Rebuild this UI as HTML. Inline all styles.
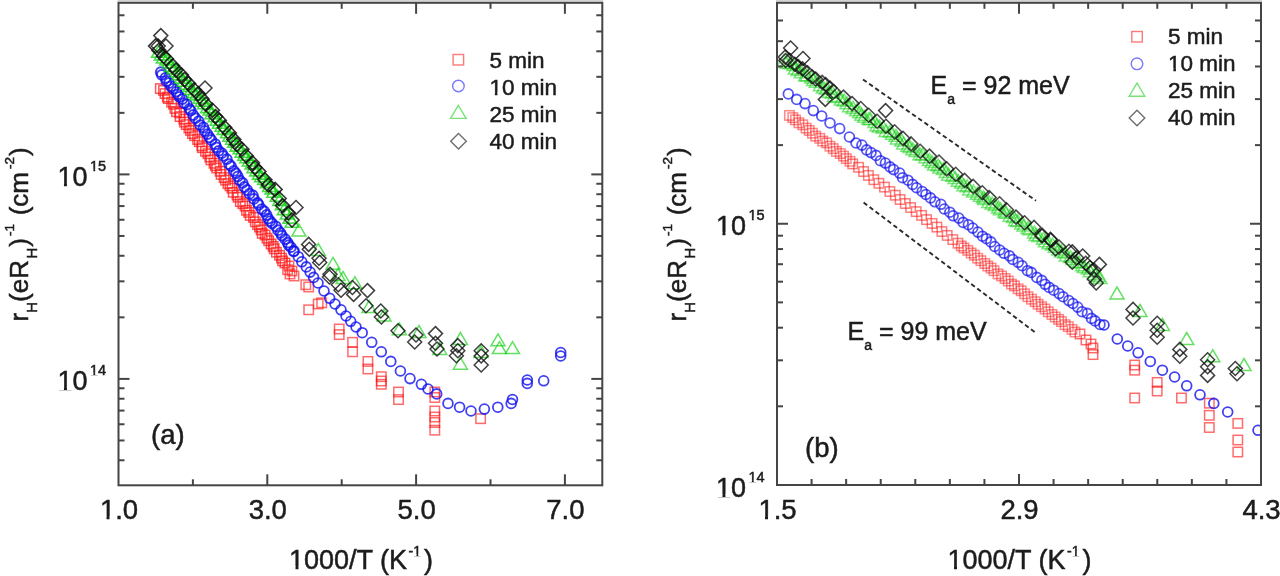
<!DOCTYPE html>
<html><head><meta charset="utf-8"><style>
html,body{margin:0;padding:0;background:#fff;width:1280px;height:576px;overflow:hidden}
svg{display:block;font-family:"Liberation Sans",sans-serif}
#w{width:1280px;height:576px;will-change:transform}
</style></head><body><div id="w">
<svg width="1280" height="576" viewBox="0 0 1280 576">
<defs>
<clipPath id="cl"><rect x="118.5" y="2.8" width="483.79999999999995" height="482.5"/></clipPath>
<clipPath id="cr"><rect x="777" y="2.8" width="484" height="482.2"/></clipPath>
</defs>
<rect width="1280" height="576" fill="#fff"/>
<g clip-path="url(#cl)">
<rect x="155.6" y="83.9" width="9.4" height="9.4" fill="none" stroke="#ff1010" stroke-width="1.5" stroke-opacity="0.7"/>
<rect x="158.8" y="85.7" width="9.4" height="9.4" fill="none" stroke="#ff1010" stroke-width="1.5" stroke-opacity="0.7"/>
<rect x="160.3" y="88.9" width="9.4" height="9.4" fill="none" stroke="#ff1010" stroke-width="1.5" stroke-opacity="0.7"/>
<rect x="162.6" y="92.4" width="9.4" height="9.4" fill="none" stroke="#ff1010" stroke-width="1.5" stroke-opacity="0.7"/>
<rect x="163.6" y="93.9" width="9.4" height="9.4" fill="none" stroke="#ff1010" stroke-width="1.5" stroke-opacity="0.7"/>
<rect x="166.9" y="97.5" width="9.4" height="9.4" fill="none" stroke="#ff1010" stroke-width="1.5" stroke-opacity="0.7"/>
<rect x="168.8" y="99.5" width="9.4" height="9.4" fill="none" stroke="#ff1010" stroke-width="1.5" stroke-opacity="0.7"/>
<rect x="170.2" y="103.7" width="9.4" height="9.4" fill="none" stroke="#ff1010" stroke-width="1.5" stroke-opacity="0.7"/>
<rect x="171.8" y="107.0" width="9.4" height="9.4" fill="none" stroke="#ff1010" stroke-width="1.5" stroke-opacity="0.7"/>
<rect x="175.0" y="108.2" width="9.4" height="9.4" fill="none" stroke="#ff1010" stroke-width="1.5" stroke-opacity="0.7"/>
<rect x="175.4" y="111.9" width="9.4" height="9.4" fill="none" stroke="#ff1010" stroke-width="1.5" stroke-opacity="0.7"/>
<rect x="179.1" y="114.5" width="9.4" height="9.4" fill="none" stroke="#ff1010" stroke-width="1.5" stroke-opacity="0.7"/>
<rect x="179.8" y="117.4" width="9.4" height="9.4" fill="none" stroke="#ff1010" stroke-width="1.5" stroke-opacity="0.7"/>
<rect x="181.5" y="119.9" width="9.4" height="9.4" fill="none" stroke="#ff1010" stroke-width="1.5" stroke-opacity="0.7"/>
<rect x="184.2" y="123.3" width="9.4" height="9.4" fill="none" stroke="#ff1010" stroke-width="1.5" stroke-opacity="0.7"/>
<rect x="185.8" y="125.7" width="9.4" height="9.4" fill="none" stroke="#ff1010" stroke-width="1.5" stroke-opacity="0.7"/>
<rect x="187.8" y="128.9" width="9.4" height="9.4" fill="none" stroke="#ff1010" stroke-width="1.5" stroke-opacity="0.7"/>
<rect x="189.9" y="131.0" width="9.4" height="9.4" fill="none" stroke="#ff1010" stroke-width="1.5" stroke-opacity="0.7"/>
<rect x="192.9" y="134.8" width="9.4" height="9.4" fill="none" stroke="#ff1010" stroke-width="1.5" stroke-opacity="0.7"/>
<rect x="194.6" y="137.0" width="9.4" height="9.4" fill="none" stroke="#ff1010" stroke-width="1.5" stroke-opacity="0.7"/>
<rect x="197.2" y="141.1" width="9.4" height="9.4" fill="none" stroke="#ff1010" stroke-width="1.5" stroke-opacity="0.7"/>
<rect x="197.6" y="143.0" width="9.4" height="9.4" fill="none" stroke="#ff1010" stroke-width="1.5" stroke-opacity="0.7"/>
<rect x="200.8" y="146.6" width="9.4" height="9.4" fill="none" stroke="#ff1010" stroke-width="1.5" stroke-opacity="0.7"/>
<rect x="203.2" y="149.0" width="9.4" height="9.4" fill="none" stroke="#ff1010" stroke-width="1.5" stroke-opacity="0.7"/>
<rect x="205.1" y="152.4" width="9.4" height="9.4" fill="none" stroke="#ff1010" stroke-width="1.5" stroke-opacity="0.7"/>
<rect x="206.2" y="155.2" width="9.4" height="9.4" fill="none" stroke="#ff1010" stroke-width="1.5" stroke-opacity="0.7"/>
<rect x="209.3" y="158.6" width="9.4" height="9.4" fill="none" stroke="#ff1010" stroke-width="1.5" stroke-opacity="0.7"/>
<rect x="210.7" y="161.0" width="9.4" height="9.4" fill="none" stroke="#ff1010" stroke-width="1.5" stroke-opacity="0.7"/>
<rect x="212.0" y="163.3" width="9.4" height="9.4" fill="none" stroke="#ff1010" stroke-width="1.5" stroke-opacity="0.7"/>
<rect x="215.4" y="166.6" width="9.4" height="9.4" fill="none" stroke="#ff1010" stroke-width="1.5" stroke-opacity="0.7"/>
<rect x="216.4" y="169.7" width="9.4" height="9.4" fill="none" stroke="#ff1010" stroke-width="1.5" stroke-opacity="0.7"/>
<rect x="219.4" y="172.9" width="9.4" height="9.4" fill="none" stroke="#ff1010" stroke-width="1.5" stroke-opacity="0.7"/>
<rect x="220.9" y="175.4" width="9.4" height="9.4" fill="none" stroke="#ff1010" stroke-width="1.5" stroke-opacity="0.7"/>
<rect x="223.2" y="178.9" width="9.4" height="9.4" fill="none" stroke="#ff1010" stroke-width="1.5" stroke-opacity="0.7"/>
<rect x="225.3" y="181.2" width="9.4" height="9.4" fill="none" stroke="#ff1010" stroke-width="1.5" stroke-opacity="0.7"/>
<rect x="227.3" y="183.5" width="9.4" height="9.4" fill="none" stroke="#ff1010" stroke-width="1.5" stroke-opacity="0.7"/>
<rect x="228.5" y="187.6" width="9.4" height="9.4" fill="none" stroke="#ff1010" stroke-width="1.5" stroke-opacity="0.7"/>
<rect x="232.3" y="190.3" width="9.4" height="9.4" fill="none" stroke="#ff1010" stroke-width="1.5" stroke-opacity="0.7"/>
<rect x="233.3" y="192.5" width="9.4" height="9.4" fill="none" stroke="#ff1010" stroke-width="1.5" stroke-opacity="0.7"/>
<rect x="235.6" y="196.9" width="9.4" height="9.4" fill="none" stroke="#ff1010" stroke-width="1.5" stroke-opacity="0.7"/>
<rect x="238.1" y="199.0" width="9.4" height="9.4" fill="none" stroke="#ff1010" stroke-width="1.5" stroke-opacity="0.7"/>
<rect x="240.4" y="201.4" width="9.4" height="9.4" fill="none" stroke="#ff1010" stroke-width="1.5" stroke-opacity="0.7"/>
<rect x="241.8" y="205.6" width="9.4" height="9.4" fill="none" stroke="#ff1010" stroke-width="1.5" stroke-opacity="0.7"/>
<rect x="244.0" y="207.7" width="9.4" height="9.4" fill="none" stroke="#ff1010" stroke-width="1.5" stroke-opacity="0.7"/>
<rect x="245.5" y="210.7" width="9.4" height="9.4" fill="none" stroke="#ff1010" stroke-width="1.5" stroke-opacity="0.7"/>
<rect x="248.8" y="212.7" width="9.4" height="9.4" fill="none" stroke="#ff1010" stroke-width="1.5" stroke-opacity="0.7"/>
<rect x="250.6" y="217.1" width="9.4" height="9.4" fill="none" stroke="#ff1010" stroke-width="1.5" stroke-opacity="0.7"/>
<rect x="252.9" y="219.9" width="9.4" height="9.4" fill="none" stroke="#ff1010" stroke-width="1.5" stroke-opacity="0.7"/>
<rect x="254.8" y="222.4" width="9.4" height="9.4" fill="none" stroke="#ff1010" stroke-width="1.5" stroke-opacity="0.7"/>
<rect x="256.4" y="225.2" width="9.4" height="9.4" fill="none" stroke="#ff1010" stroke-width="1.5" stroke-opacity="0.7"/>
<rect x="257.5" y="228.7" width="9.4" height="9.4" fill="none" stroke="#ff1010" stroke-width="1.5" stroke-opacity="0.7"/>
<rect x="260.4" y="230.3" width="9.4" height="9.4" fill="none" stroke="#ff1010" stroke-width="1.5" stroke-opacity="0.7"/>
<rect x="262.3" y="233.5" width="9.4" height="9.4" fill="none" stroke="#ff1010" stroke-width="1.5" stroke-opacity="0.7"/>
<rect x="264.0" y="236.0" width="9.4" height="9.4" fill="none" stroke="#ff1010" stroke-width="1.5" stroke-opacity="0.7"/>
<rect x="266.4" y="239.3" width="9.4" height="9.4" fill="none" stroke="#ff1010" stroke-width="1.5" stroke-opacity="0.7"/>
<rect x="268.5" y="241.7" width="9.4" height="9.4" fill="none" stroke="#ff1010" stroke-width="1.5" stroke-opacity="0.7"/>
<rect x="269.5" y="244.1" width="9.4" height="9.4" fill="none" stroke="#ff1010" stroke-width="1.5" stroke-opacity="0.7"/>
<rect x="271.7" y="247.5" width="9.4" height="9.4" fill="none" stroke="#ff1010" stroke-width="1.5" stroke-opacity="0.7"/>
<rect x="274.9" y="250.6" width="9.4" height="9.4" fill="none" stroke="#ff1010" stroke-width="1.5" stroke-opacity="0.7"/>
<rect x="276.8" y="253.4" width="9.4" height="9.4" fill="none" stroke="#ff1010" stroke-width="1.5" stroke-opacity="0.7"/>
<rect x="277.9" y="256.2" width="9.4" height="9.4" fill="none" stroke="#ff1010" stroke-width="1.5" stroke-opacity="0.7"/>
<rect x="280.3" y="258.3" width="9.4" height="9.4" fill="none" stroke="#ff1010" stroke-width="1.5" stroke-opacity="0.7"/>
<rect x="284.3" y="261.3" width="9.4" height="9.4" fill="none" stroke="#ff1010" stroke-width="1.5" stroke-opacity="0.62"/>
<rect x="287.3" y="266.3" width="9.4" height="9.4" fill="none" stroke="#ff1010" stroke-width="1.5" stroke-opacity="0.62"/>
<rect x="289.3" y="271.3" width="9.4" height="9.4" fill="none" stroke="#ff1010" stroke-width="1.5" stroke-opacity="0.62"/>
<rect x="285.3" y="269.3" width="9.4" height="9.4" fill="none" stroke="#ff1010" stroke-width="1.5" stroke-opacity="0.62"/>
<rect x="282.9" y="265.0" width="9.4" height="9.4" fill="none" stroke="#ff1010" stroke-width="1.5" stroke-opacity="0.62"/>
<rect x="301.1" y="280.0" width="9.4" height="9.4" fill="none" stroke="#ff1010" stroke-width="1.5" stroke-opacity="0.62"/>
<rect x="304.0" y="282.3" width="9.4" height="9.4" fill="none" stroke="#ff1010" stroke-width="1.5" stroke-opacity="0.62"/>
<rect x="304.0" y="305.1" width="9.4" height="9.4" fill="none" stroke="#ff1010" stroke-width="1.5" stroke-opacity="0.62"/>
<rect x="313.5" y="299.3" width="9.4" height="9.4" fill="none" stroke="#ff1010" stroke-width="1.5" stroke-opacity="0.62"/>
<rect x="317.0" y="298.1" width="9.4" height="9.4" fill="none" stroke="#ff1010" stroke-width="1.5" stroke-opacity="0.62"/>
<rect x="334.5" y="324.3" width="9.4" height="9.4" fill="none" stroke="#ff1010" stroke-width="1.5" stroke-opacity="0.62"/>
<rect x="334.5" y="329.9" width="9.4" height="9.4" fill="none" stroke="#ff1010" stroke-width="1.5" stroke-opacity="0.62"/>
<rect x="347.9" y="337.6" width="9.4" height="9.4" fill="none" stroke="#ff1010" stroke-width="1.5" stroke-opacity="0.62"/>
<rect x="347.9" y="347.1" width="9.4" height="9.4" fill="none" stroke="#ff1010" stroke-width="1.5" stroke-opacity="0.62"/>
<rect x="363.2" y="356.7" width="9.4" height="9.4" fill="none" stroke="#ff1010" stroke-width="1.5" stroke-opacity="0.62"/>
<rect x="363.2" y="364.3" width="9.4" height="9.4" fill="none" stroke="#ff1010" stroke-width="1.5" stroke-opacity="0.62"/>
<rect x="376.6" y="372.0" width="9.4" height="9.4" fill="none" stroke="#ff1010" stroke-width="1.5" stroke-opacity="0.62"/>
<rect x="376.6" y="376.3" width="9.4" height="9.4" fill="none" stroke="#ff1010" stroke-width="1.5" stroke-opacity="0.62"/>
<rect x="376.6" y="379.6" width="9.4" height="9.4" fill="none" stroke="#ff1010" stroke-width="1.5" stroke-opacity="0.62"/>
<rect x="393.8" y="387.3" width="9.4" height="9.4" fill="none" stroke="#ff1010" stroke-width="1.5" stroke-opacity="0.62"/>
<rect x="393.8" y="394.9" width="9.4" height="9.4" fill="none" stroke="#ff1010" stroke-width="1.5" stroke-opacity="0.62"/>
<rect x="430.1" y="387.3" width="9.4" height="9.4" fill="none" stroke="#ff1010" stroke-width="1.5" stroke-opacity="0.62"/>
<rect x="430.1" y="392.8" width="9.4" height="9.4" fill="none" stroke="#ff1010" stroke-width="1.5" stroke-opacity="0.62"/>
<rect x="430.1" y="406.3" width="9.4" height="9.4" fill="none" stroke="#ff1010" stroke-width="1.5" stroke-opacity="0.62"/>
<rect x="430.1" y="412.3" width="9.4" height="9.4" fill="none" stroke="#ff1010" stroke-width="1.5" stroke-opacity="0.62"/>
<rect x="430.1" y="417.8" width="9.4" height="9.4" fill="none" stroke="#ff1010" stroke-width="1.5" stroke-opacity="0.62"/>
<rect x="430.1" y="425.5" width="9.4" height="9.4" fill="none" stroke="#ff1010" stroke-width="1.5" stroke-opacity="0.62"/>
<rect x="475.9" y="414.0" width="9.4" height="9.4" fill="none" stroke="#ff1010" stroke-width="1.5" stroke-opacity="0.62"/>
<circle cx="160.8" cy="72.2" r="4.9" fill="none" stroke="#1010f0" stroke-width="2.0" stroke-opacity="0.8"/>
<circle cx="161.8" cy="74.8" r="4.9" fill="none" stroke="#1010f0" stroke-width="2.0" stroke-opacity="0.8"/>
<circle cx="165.4" cy="77.9" r="4.9" fill="none" stroke="#1010f0" stroke-width="2.0" stroke-opacity="0.8"/>
<circle cx="166.4" cy="81.2" r="4.9" fill="none" stroke="#1010f0" stroke-width="2.0" stroke-opacity="0.8"/>
<circle cx="169.1" cy="82.9" r="4.9" fill="none" stroke="#1010f0" stroke-width="2.0" stroke-opacity="0.8"/>
<circle cx="170.9" cy="86.4" r="4.9" fill="none" stroke="#1010f0" stroke-width="2.0" stroke-opacity="0.8"/>
<circle cx="173.2" cy="88.6" r="4.9" fill="none" stroke="#1010f0" stroke-width="2.0" stroke-opacity="0.8"/>
<circle cx="176.3" cy="91.6" r="4.9" fill="none" stroke="#1010f0" stroke-width="2.0" stroke-opacity="0.8"/>
<circle cx="177.8" cy="94.3" r="4.9" fill="none" stroke="#1010f0" stroke-width="2.0" stroke-opacity="0.8"/>
<circle cx="179.5" cy="96.8" r="4.9" fill="none" stroke="#1010f0" stroke-width="2.0" stroke-opacity="0.8"/>
<circle cx="182.4" cy="99.1" r="4.9" fill="none" stroke="#1010f0" stroke-width="2.0" stroke-opacity="0.8"/>
<circle cx="184.1" cy="103.1" r="4.9" fill="none" stroke="#1010f0" stroke-width="2.0" stroke-opacity="0.8"/>
<circle cx="187.0" cy="104.5" r="4.9" fill="none" stroke="#1010f0" stroke-width="2.0" stroke-opacity="0.8"/>
<circle cx="189.5" cy="108.8" r="4.9" fill="none" stroke="#1010f0" stroke-width="2.0" stroke-opacity="0.8"/>
<circle cx="190.7" cy="110.6" r="4.9" fill="none" stroke="#1010f0" stroke-width="2.0" stroke-opacity="0.8"/>
<circle cx="193.2" cy="115.0" r="4.9" fill="none" stroke="#1010f0" stroke-width="2.0" stroke-opacity="0.8"/>
<circle cx="195.5" cy="118.2" r="4.9" fill="none" stroke="#1010f0" stroke-width="2.0" stroke-opacity="0.8"/>
<circle cx="198.7" cy="121.2" r="4.9" fill="none" stroke="#1010f0" stroke-width="2.0" stroke-opacity="0.8"/>
<circle cx="200.2" cy="125.1" r="4.9" fill="none" stroke="#1010f0" stroke-width="2.0" stroke-opacity="0.8"/>
<circle cx="203.5" cy="127.5" r="4.9" fill="none" stroke="#1010f0" stroke-width="2.0" stroke-opacity="0.8"/>
<circle cx="204.8" cy="131.0" r="4.9" fill="none" stroke="#1010f0" stroke-width="2.0" stroke-opacity="0.8"/>
<circle cx="207.4" cy="134.1" r="4.9" fill="none" stroke="#1010f0" stroke-width="2.0" stroke-opacity="0.8"/>
<circle cx="209.5" cy="137.4" r="4.9" fill="none" stroke="#1010f0" stroke-width="2.0" stroke-opacity="0.8"/>
<circle cx="211.3" cy="140.0" r="4.9" fill="none" stroke="#1010f0" stroke-width="2.0" stroke-opacity="0.8"/>
<circle cx="215.3" cy="144.2" r="4.9" fill="none" stroke="#1010f0" stroke-width="2.0" stroke-opacity="0.8"/>
<circle cx="216.4" cy="147.4" r="4.9" fill="none" stroke="#1010f0" stroke-width="2.0" stroke-opacity="0.8"/>
<circle cx="218.7" cy="150.8" r="4.9" fill="none" stroke="#1010f0" stroke-width="2.0" stroke-opacity="0.8"/>
<circle cx="221.8" cy="153.2" r="4.9" fill="none" stroke="#1010f0" stroke-width="2.0" stroke-opacity="0.8"/>
<circle cx="223.3" cy="155.8" r="4.9" fill="none" stroke="#1010f0" stroke-width="2.0" stroke-opacity="0.8"/>
<circle cx="226.8" cy="159.2" r="4.9" fill="none" stroke="#1010f0" stroke-width="2.0" stroke-opacity="0.8"/>
<circle cx="229.1" cy="164.2" r="4.9" fill="none" stroke="#1010f0" stroke-width="2.0" stroke-opacity="0.8"/>
<circle cx="231.0" cy="166.1" r="4.9" fill="none" stroke="#1010f0" stroke-width="2.0" stroke-opacity="0.8"/>
<circle cx="233.9" cy="170.9" r="4.9" fill="none" stroke="#1010f0" stroke-width="2.0" stroke-opacity="0.8"/>
<circle cx="236.0" cy="173.3" r="4.9" fill="none" stroke="#1010f0" stroke-width="2.0" stroke-opacity="0.8"/>
<circle cx="237.8" cy="176.4" r="4.9" fill="none" stroke="#1010f0" stroke-width="2.0" stroke-opacity="0.8"/>
<circle cx="239.8" cy="180.3" r="4.9" fill="none" stroke="#1010f0" stroke-width="2.0" stroke-opacity="0.8"/>
<circle cx="242.6" cy="182.8" r="4.9" fill="none" stroke="#1010f0" stroke-width="2.0" stroke-opacity="0.8"/>
<circle cx="244.4" cy="187.0" r="4.9" fill="none" stroke="#1010f0" stroke-width="2.0" stroke-opacity="0.8"/>
<circle cx="247.1" cy="190.0" r="4.9" fill="none" stroke="#1010f0" stroke-width="2.0" stroke-opacity="0.8"/>
<circle cx="249.5" cy="193.7" r="4.9" fill="none" stroke="#1010f0" stroke-width="2.0" stroke-opacity="0.8"/>
<circle cx="252.8" cy="195.3" r="4.9" fill="none" stroke="#1010f0" stroke-width="2.0" stroke-opacity="0.8"/>
<circle cx="253.9" cy="198.9" r="4.9" fill="none" stroke="#1010f0" stroke-width="2.0" stroke-opacity="0.8"/>
<circle cx="257.6" cy="202.8" r="4.9" fill="none" stroke="#1010f0" stroke-width="2.0" stroke-opacity="0.8"/>
<circle cx="258.7" cy="204.9" r="4.9" fill="none" stroke="#1010f0" stroke-width="2.0" stroke-opacity="0.8"/>
<circle cx="261.7" cy="209.1" r="4.9" fill="none" stroke="#1010f0" stroke-width="2.0" stroke-opacity="0.8"/>
<circle cx="264.4" cy="211.3" r="4.9" fill="none" stroke="#1010f0" stroke-width="2.0" stroke-opacity="0.8"/>
<circle cx="266.6" cy="215.0" r="4.9" fill="none" stroke="#1010f0" stroke-width="2.0" stroke-opacity="0.8"/>
<circle cx="268.2" cy="218.6" r="4.9" fill="none" stroke="#1010f0" stroke-width="2.0" stroke-opacity="0.8"/>
<circle cx="270.1" cy="221.2" r="4.9" fill="none" stroke="#1010f0" stroke-width="2.0" stroke-opacity="0.8"/>
<circle cx="272.1" cy="223.3" r="4.9" fill="none" stroke="#1010f0" stroke-width="2.0" stroke-opacity="0.8"/>
<circle cx="275.9" cy="226.4" r="4.9" fill="none" stroke="#1010f0" stroke-width="2.0" stroke-opacity="0.8"/>
<circle cx="278.0" cy="230.2" r="4.9" fill="none" stroke="#1010f0" stroke-width="2.0" stroke-opacity="0.8"/>
<circle cx="280.5" cy="232.8" r="4.9" fill="none" stroke="#1010f0" stroke-width="2.0" stroke-opacity="0.8"/>
<circle cx="281.9" cy="235.6" r="4.9" fill="none" stroke="#1010f0" stroke-width="2.0" stroke-opacity="0.8"/>
<circle cx="285.2" cy="239.2" r="4.9" fill="none" stroke="#1010f0" stroke-width="2.0" stroke-opacity="0.8"/>
<circle cx="287.7" cy="242.7" r="4.9" fill="none" stroke="#1010f0" stroke-width="2.0" stroke-opacity="0.8"/>
<circle cx="288.6" cy="245.1" r="4.9" fill="none" stroke="#1010f0" stroke-width="2.0" stroke-opacity="0.8"/>
<circle cx="290.9" cy="247.2" r="4.9" fill="none" stroke="#1010f0" stroke-width="2.0" stroke-opacity="0.8"/>
<circle cx="294.0" cy="251.0" r="4.9" fill="none" stroke="#1010f0" stroke-width="2.0" stroke-opacity="0.8"/>
<circle cx="293.6" cy="251.4" r="4.9" fill="none" stroke="#1010f0" stroke-width="1.8" stroke-opacity="0.8"/>
<circle cx="298.3" cy="256.7" r="4.9" fill="none" stroke="#1010f0" stroke-width="1.8" stroke-opacity="0.8"/>
<circle cx="301.8" cy="261.8" r="4.9" fill="none" stroke="#1010f0" stroke-width="1.8" stroke-opacity="0.8"/>
<circle cx="306.3" cy="266.9" r="4.9" fill="none" stroke="#1010f0" stroke-width="1.8" stroke-opacity="0.8"/>
<circle cx="310.1" cy="272.1" r="4.9" fill="none" stroke="#1010f0" stroke-width="1.8" stroke-opacity="0.8"/>
<circle cx="313.6" cy="277.4" r="4.9" fill="none" stroke="#1010f0" stroke-width="1.8" stroke-opacity="0.8"/>
<circle cx="318.0" cy="283.0" r="4.9" fill="none" stroke="#1010f0" stroke-width="1.8" stroke-opacity="0.8"/>
<circle cx="324.0" cy="291.0" r="4.9" fill="none" stroke="#1010f0" stroke-width="1.8" stroke-opacity="0.8"/>
<circle cx="329.7" cy="298.3" r="4.9" fill="none" stroke="#1010f0" stroke-width="1.8" stroke-opacity="0.8"/>
<circle cx="335.0" cy="304.0" r="4.9" fill="none" stroke="#1010f0" stroke-width="1.8" stroke-opacity="0.8"/>
<circle cx="341.0" cy="309.8" r="4.9" fill="none" stroke="#1010f0" stroke-width="1.8" stroke-opacity="0.8"/>
<circle cx="346.0" cy="316.0" r="4.9" fill="none" stroke="#1010f0" stroke-width="1.8" stroke-opacity="0.8"/>
<circle cx="350.7" cy="321.3" r="4.9" fill="none" stroke="#1010f0" stroke-width="1.8" stroke-opacity="0.8"/>
<circle cx="356.0" cy="327.0" r="4.9" fill="none" stroke="#1010f0" stroke-width="1.8" stroke-opacity="0.8"/>
<circle cx="362.2" cy="332.7" r="4.9" fill="none" stroke="#1010f0" stroke-width="1.8" stroke-opacity="0.8"/>
<circle cx="371.7" cy="342.3" r="4.9" fill="none" stroke="#1010f0" stroke-width="1.8" stroke-opacity="0.8"/>
<circle cx="381.3" cy="351.8" r="4.9" fill="none" stroke="#1010f0" stroke-width="1.8" stroke-opacity="0.8"/>
<circle cx="390.8" cy="361.4" r="4.9" fill="none" stroke="#1010f0" stroke-width="1.8" stroke-opacity="0.8"/>
<circle cx="400.4" cy="371.0" r="4.9" fill="none" stroke="#1010f0" stroke-width="1.8" stroke-opacity="0.8"/>
<circle cx="410.0" cy="378.6" r="4.9" fill="none" stroke="#1010f0" stroke-width="1.8" stroke-opacity="0.8"/>
<circle cx="421.4" cy="384.3" r="4.9" fill="none" stroke="#1010f0" stroke-width="1.8" stroke-opacity="0.8"/>
<circle cx="428.0" cy="389.0" r="4.9" fill="none" stroke="#1010f0" stroke-width="1.8" stroke-opacity="0.8"/>
<circle cx="436.7" cy="393.9" r="4.9" fill="none" stroke="#1010f0" stroke-width="1.8" stroke-opacity="0.8"/>
<circle cx="448.0" cy="403.4" r="4.9" fill="none" stroke="#1010f0" stroke-width="1.8" stroke-opacity="0.8"/>
<circle cx="459.6" cy="407.2" r="4.9" fill="none" stroke="#1010f0" stroke-width="1.8" stroke-opacity="0.8"/>
<circle cx="471.0" cy="411.0" r="4.9" fill="none" stroke="#1010f0" stroke-width="1.8" stroke-opacity="0.8"/>
<circle cx="484.4" cy="409.1" r="4.9" fill="none" stroke="#1010f0" stroke-width="1.8" stroke-opacity="0.8"/>
<circle cx="497.8" cy="407.2" r="4.9" fill="none" stroke="#1010f0" stroke-width="1.8" stroke-opacity="0.8"/>
<circle cx="511.2" cy="403.4" r="4.9" fill="none" stroke="#1010f0" stroke-width="1.8" stroke-opacity="0.8"/>
<circle cx="512.5" cy="399.5" r="4.9" fill="none" stroke="#1010f0" stroke-width="1.8" stroke-opacity="0.8"/>
<circle cx="527.3" cy="383.4" r="4.9" fill="none" stroke="#1010f0" stroke-width="1.8" stroke-opacity="0.8"/>
<circle cx="527.3" cy="380.0" r="4.9" fill="none" stroke="#1010f0" stroke-width="1.8" stroke-opacity="0.8"/>
<circle cx="543.7" cy="380.8" r="4.9" fill="none" stroke="#1010f0" stroke-width="1.8" stroke-opacity="0.8"/>
<circle cx="560.7" cy="356.0" r="4.9" fill="none" stroke="#1010f0" stroke-width="1.8" stroke-opacity="0.8"/>
<circle cx="560.7" cy="352.5" r="4.9" fill="none" stroke="#1010f0" stroke-width="1.8" stroke-opacity="0.8"/>
<path d="M158.4 45.8L165.1 57.2L151.6 57.2Z" fill="none" stroke="#10d010" stroke-width="1.6" stroke-linejoin="miter" stroke-opacity="0.75"/>
<path d="M161.2 48.4L167.9 59.9L154.4 59.9Z" fill="none" stroke="#10d010" stroke-width="1.6" stroke-linejoin="miter" stroke-opacity="0.75"/>
<path d="M163.3 51.5L170.0 63.0L156.5 63.0Z" fill="none" stroke="#10d010" stroke-width="1.6" stroke-linejoin="miter" stroke-opacity="0.75"/>
<path d="M166.6 53.5L173.3 64.9L159.8 64.9Z" fill="none" stroke="#10d010" stroke-width="1.6" stroke-linejoin="miter" stroke-opacity="0.75"/>
<path d="M169.2 56.3L175.9 67.8L162.4 67.8Z" fill="none" stroke="#10d010" stroke-width="1.6" stroke-linejoin="miter" stroke-opacity="0.75"/>
<path d="M171.1 60.0L177.9 71.5L164.4 71.5Z" fill="none" stroke="#10d010" stroke-width="1.6" stroke-linejoin="miter" stroke-opacity="0.75"/>
<path d="M173.6 62.3L180.4 73.8L166.9 73.8Z" fill="none" stroke="#10d010" stroke-width="1.6" stroke-linejoin="miter" stroke-opacity="0.75"/>
<path d="M177.1 65.4L183.8 76.9L170.3 76.9Z" fill="none" stroke="#10d010" stroke-width="1.6" stroke-linejoin="miter" stroke-opacity="0.75"/>
<path d="M178.7 68.1L185.5 79.6L172.0 79.6Z" fill="none" stroke="#10d010" stroke-width="1.6" stroke-linejoin="miter" stroke-opacity="0.75"/>
<path d="M181.4 71.6L188.2 83.1L174.7 83.1Z" fill="none" stroke="#10d010" stroke-width="1.6" stroke-linejoin="miter" stroke-opacity="0.75"/>
<path d="M183.8 74.7L190.6 86.2L177.1 86.2Z" fill="none" stroke="#10d010" stroke-width="1.6" stroke-linejoin="miter" stroke-opacity="0.75"/>
<path d="M186.6 77.7L193.4 89.2L179.9 89.2Z" fill="none" stroke="#10d010" stroke-width="1.6" stroke-linejoin="miter" stroke-opacity="0.75"/>
<path d="M189.7 79.9L196.4 91.4L182.9 91.4Z" fill="none" stroke="#10d010" stroke-width="1.6" stroke-linejoin="miter" stroke-opacity="0.75"/>
<path d="M191.6 83.1L198.3 94.5L184.8 94.5Z" fill="none" stroke="#10d010" stroke-width="1.6" stroke-linejoin="miter" stroke-opacity="0.75"/>
<path d="M193.9 86.2L200.7 97.6L187.2 97.6Z" fill="none" stroke="#10d010" stroke-width="1.6" stroke-linejoin="miter" stroke-opacity="0.75"/>
<path d="M196.4 88.5L203.2 99.9L189.7 99.9Z" fill="none" stroke="#10d010" stroke-width="1.6" stroke-linejoin="miter" stroke-opacity="0.75"/>
<path d="M199.9 91.7L206.6 103.2L193.1 103.2Z" fill="none" stroke="#10d010" stroke-width="1.6" stroke-linejoin="miter" stroke-opacity="0.75"/>
<path d="M202.0 94.8L208.8 106.2L195.3 106.2Z" fill="none" stroke="#10d010" stroke-width="1.6" stroke-linejoin="miter" stroke-opacity="0.75"/>
<path d="M204.3 97.3L211.0 108.8L197.5 108.8Z" fill="none" stroke="#10d010" stroke-width="1.6" stroke-linejoin="miter" stroke-opacity="0.75"/>
<path d="M207.4 101.2L214.2 112.6L200.7 112.6Z" fill="none" stroke="#10d010" stroke-width="1.6" stroke-linejoin="miter" stroke-opacity="0.75"/>
<path d="M210.0 103.5L216.7 115.0L203.2 115.0Z" fill="none" stroke="#10d010" stroke-width="1.6" stroke-linejoin="miter" stroke-opacity="0.75"/>
<path d="M211.7 107.2L218.5 118.7L205.0 118.7Z" fill="none" stroke="#10d010" stroke-width="1.6" stroke-linejoin="miter" stroke-opacity="0.75"/>
<path d="M215.0 110.4L221.7 121.8L208.2 121.8Z" fill="none" stroke="#10d010" stroke-width="1.6" stroke-linejoin="miter" stroke-opacity="0.75"/>
<path d="M217.2 113.7L223.9 125.2L210.4 125.2Z" fill="none" stroke="#10d010" stroke-width="1.6" stroke-linejoin="miter" stroke-opacity="0.75"/>
<path d="M219.3 116.8L226.0 128.3L212.5 128.3Z" fill="none" stroke="#10d010" stroke-width="1.6" stroke-linejoin="miter" stroke-opacity="0.75"/>
<path d="M221.8 119.7L228.6 131.2L215.1 131.2Z" fill="none" stroke="#10d010" stroke-width="1.6" stroke-linejoin="miter" stroke-opacity="0.75"/>
<path d="M224.1 123.0L230.8 134.4L217.3 134.4Z" fill="none" stroke="#10d010" stroke-width="1.6" stroke-linejoin="miter" stroke-opacity="0.75"/>
<path d="M227.5 126.4L234.2 137.8L220.7 137.8Z" fill="none" stroke="#10d010" stroke-width="1.6" stroke-linejoin="miter" stroke-opacity="0.75"/>
<path d="M229.7 129.8L236.4 141.2L222.9 141.2Z" fill="none" stroke="#10d010" stroke-width="1.6" stroke-linejoin="miter" stroke-opacity="0.75"/>
<path d="M232.4 132.7L239.2 144.2L225.7 144.2Z" fill="none" stroke="#10d010" stroke-width="1.6" stroke-linejoin="miter" stroke-opacity="0.75"/>
<path d="M234.3 135.9L241.1 147.3L227.6 147.3Z" fill="none" stroke="#10d010" stroke-width="1.6" stroke-linejoin="miter" stroke-opacity="0.75"/>
<path d="M236.8 139.6L243.6 151.1L230.1 151.1Z" fill="none" stroke="#10d010" stroke-width="1.6" stroke-linejoin="miter" stroke-opacity="0.75"/>
<path d="M239.9 142.3L246.6 153.8L233.1 153.8Z" fill="none" stroke="#10d010" stroke-width="1.6" stroke-linejoin="miter" stroke-opacity="0.75"/>
<path d="M241.8 145.7L248.6 157.2L235.1 157.2Z" fill="none" stroke="#10d010" stroke-width="1.6" stroke-linejoin="miter" stroke-opacity="0.75"/>
<path d="M244.5 148.9L251.3 160.3L237.8 160.3Z" fill="none" stroke="#10d010" stroke-width="1.6" stroke-linejoin="miter" stroke-opacity="0.75"/>
<path d="M246.7 151.4L253.4 162.8L239.9 162.8Z" fill="none" stroke="#10d010" stroke-width="1.6" stroke-linejoin="miter" stroke-opacity="0.75"/>
<path d="M249.1 154.5L255.9 166.0L242.4 166.0Z" fill="none" stroke="#10d010" stroke-width="1.6" stroke-linejoin="miter" stroke-opacity="0.75"/>
<path d="M251.9 157.6L258.6 169.0L245.1 169.0Z" fill="none" stroke="#10d010" stroke-width="1.6" stroke-linejoin="miter" stroke-opacity="0.75"/>
<path d="M253.9 161.2L260.6 172.7L247.1 172.7Z" fill="none" stroke="#10d010" stroke-width="1.6" stroke-linejoin="miter" stroke-opacity="0.75"/>
<path d="M256.6 164.4L263.3 175.9L249.8 175.9Z" fill="none" stroke="#10d010" stroke-width="1.6" stroke-linejoin="miter" stroke-opacity="0.75"/>
<path d="M259.2 167.6L266.0 179.1L252.5 179.1Z" fill="none" stroke="#10d010" stroke-width="1.6" stroke-linejoin="miter" stroke-opacity="0.75"/>
<path d="M261.3 170.3L268.1 181.8L254.6 181.8Z" fill="none" stroke="#10d010" stroke-width="1.6" stroke-linejoin="miter" stroke-opacity="0.75"/>
<path d="M264.4 173.0L271.2 184.4L257.7 184.4Z" fill="none" stroke="#10d010" stroke-width="1.6" stroke-linejoin="miter" stroke-opacity="0.75"/>
<path d="M267.1 176.1L273.8 187.6L260.3 187.6Z" fill="none" stroke="#10d010" stroke-width="1.6" stroke-linejoin="miter" stroke-opacity="0.75"/>
<path d="M269.4 180.0L276.1 191.5L262.6 191.5Z" fill="none" stroke="#10d010" stroke-width="1.6" stroke-linejoin="miter" stroke-opacity="0.75"/>
<path d="M271.9 182.4L278.6 193.9L265.1 193.9Z" fill="none" stroke="#10d010" stroke-width="1.6" stroke-linejoin="miter" stroke-opacity="0.75"/>
<path d="M273.6 185.7L280.4 197.2L266.9 197.2Z" fill="none" stroke="#10d010" stroke-width="1.6" stroke-linejoin="miter" stroke-opacity="0.75"/>
<path d="M277.0 189.8L283.7 201.2L270.2 201.2Z" fill="none" stroke="#10d010" stroke-width="1.6" stroke-linejoin="miter" stroke-opacity="0.75"/>
<path d="M279.5 193.9L286.3 205.4L272.8 205.4Z" fill="none" stroke="#10d010" stroke-width="1.6" stroke-linejoin="miter" stroke-opacity="0.75"/>
<path d="M282.1 198.1L288.9 209.6L275.4 209.6Z" fill="none" stroke="#10d010" stroke-width="1.6" stroke-linejoin="miter" stroke-opacity="0.75"/>
<path d="M284.1 203.2L290.9 214.7L277.4 214.7Z" fill="none" stroke="#10d010" stroke-width="1.6" stroke-linejoin="miter" stroke-opacity="0.75"/>
<path d="M287.2 207.5L293.9 219.0L280.4 219.0Z" fill="none" stroke="#10d010" stroke-width="1.6" stroke-linejoin="miter" stroke-opacity="0.75"/>
<path d="M289.8 211.6L296.5 223.1L283.0 223.1Z" fill="none" stroke="#10d010" stroke-width="1.6" stroke-linejoin="miter" stroke-opacity="0.75"/>
<path d="M292.0 215.7L298.8 227.2L285.2 227.2Z" fill="none" stroke="#10d010" stroke-width="1.6" stroke-linejoin="miter" stroke-opacity="0.75"/>
<path d="M298.9 224.1L305.9 236.0L291.9 236.0Z" fill="none" stroke="#10d010" stroke-width="1.5" stroke-linejoin="miter" stroke-opacity="0.65"/>
<path d="M318.3 243.5L325.3 255.4L311.3 255.4Z" fill="none" stroke="#10d010" stroke-width="1.5" stroke-linejoin="miter" stroke-opacity="0.65"/>
<path d="M333.0 257.4L340.0 269.3L326.0 269.3Z" fill="none" stroke="#10d010" stroke-width="1.5" stroke-linejoin="miter" stroke-opacity="0.65"/>
<path d="M338.0 268.5L345.0 280.4L331.0 280.4Z" fill="none" stroke="#10d010" stroke-width="1.5" stroke-linejoin="miter" stroke-opacity="0.65"/>
<path d="M343.0 271.5L350.0 283.4L336.0 283.4Z" fill="none" stroke="#10d010" stroke-width="1.5" stroke-linejoin="miter" stroke-opacity="0.65"/>
<path d="M355.0 276.8L362.0 288.7L348.0 288.7Z" fill="none" stroke="#10d010" stroke-width="1.5" stroke-linejoin="miter" stroke-opacity="0.65"/>
<path d="M369.0 300.5L376.0 312.4L362.0 312.4Z" fill="none" stroke="#10d010" stroke-width="1.5" stroke-linejoin="miter" stroke-opacity="0.65"/>
<path d="M384.0 309.0L391.0 320.9L377.0 320.9Z" fill="none" stroke="#10d010" stroke-width="1.5" stroke-linejoin="miter" stroke-opacity="0.65"/>
<path d="M399.4 322.9L406.4 334.8L392.4 334.8Z" fill="none" stroke="#10d010" stroke-width="1.5" stroke-linejoin="miter" stroke-opacity="0.65"/>
<path d="M419.0 325.5L426.0 337.4L412.0 337.4Z" fill="none" stroke="#10d010" stroke-width="1.5" stroke-linejoin="miter" stroke-opacity="0.65"/>
<path d="M439.7 342.5L446.7 354.4L432.7 354.4Z" fill="none" stroke="#10d010" stroke-width="1.5" stroke-linejoin="miter" stroke-opacity="0.65"/>
<path d="M460.4 332.5L467.4 344.4L453.4 344.4Z" fill="none" stroke="#10d010" stroke-width="1.5" stroke-linejoin="miter" stroke-opacity="0.65"/>
<path d="M460.4 357.3L467.4 369.2L453.4 369.2Z" fill="none" stroke="#10d010" stroke-width="1.5" stroke-linejoin="miter" stroke-opacity="0.65"/>
<path d="M481.0 345.5L488.0 357.4L474.0 357.4Z" fill="none" stroke="#10d010" stroke-width="1.5" stroke-linejoin="miter" stroke-opacity="0.65"/>
<path d="M498.0 333.9L505.0 345.8L491.0 345.8Z" fill="none" stroke="#10d010" stroke-width="1.5" stroke-linejoin="miter" stroke-opacity="0.65"/>
<path d="M499.4 341.7L506.4 353.6L492.4 353.6Z" fill="none" stroke="#10d010" stroke-width="1.5" stroke-linejoin="miter" stroke-opacity="0.65"/>
<path d="M512.5 341.7L519.5 353.6L505.5 353.6Z" fill="none" stroke="#10d010" stroke-width="1.5" stroke-linejoin="miter" stroke-opacity="0.65"/>
<path d="M155.6 39.0L162.6 46.0L155.6 53.0L148.6 46.0Z" fill="none" stroke="#101010" stroke-width="1.6" stroke-opacity="0.85"/>
<path d="M158.8 43.3L165.8 50.3L158.8 57.3L151.8 50.3Z" fill="none" stroke="#101010" stroke-width="1.6" stroke-opacity="0.85"/>
<path d="M163.6 49.2L170.6 56.2L163.6 63.2L156.6 56.2Z" fill="none" stroke="#101010" stroke-width="1.6" stroke-opacity="0.85"/>
<path d="M166.3 51.7L173.3 58.7L166.3 65.7L159.3 58.7Z" fill="none" stroke="#101010" stroke-width="1.6" stroke-opacity="0.85"/>
<path d="M172.8 58.9L179.8 65.9L172.8 72.9L165.8 65.9Z" fill="none" stroke="#101010" stroke-width="1.6" stroke-opacity="0.85"/>
<path d="M176.0 63.1L183.0 70.1L176.0 77.1L169.0 70.1Z" fill="none" stroke="#101010" stroke-width="1.6" stroke-opacity="0.85"/>
<path d="M181.4 67.9L188.4 74.9L181.4 81.9L174.4 74.9Z" fill="none" stroke="#101010" stroke-width="1.6" stroke-opacity="0.85"/>
<path d="M184.5 72.5L191.5 79.5L184.5 86.5L177.5 79.5Z" fill="none" stroke="#101010" stroke-width="1.6" stroke-opacity="0.85"/>
<path d="M188.5 76.6L195.5 83.6L188.5 90.6L181.5 83.6Z" fill="none" stroke="#101010" stroke-width="1.6" stroke-opacity="0.85"/>
<path d="M194.1 82.8L201.1 89.8L194.1 96.8L187.1 89.8Z" fill="none" stroke="#101010" stroke-width="1.6" stroke-opacity="0.85"/>
<path d="M198.3 86.7L205.3 93.7L198.3 100.7L191.3 93.7Z" fill="none" stroke="#101010" stroke-width="1.6" stroke-opacity="0.85"/>
<path d="M202.1 91.9L209.1 98.9L202.1 105.9L195.1 98.9Z" fill="none" stroke="#101010" stroke-width="1.6" stroke-opacity="0.85"/>
<path d="M205.9 97.3L212.9 104.3L205.9 111.3L198.9 104.3Z" fill="none" stroke="#101010" stroke-width="1.6" stroke-opacity="0.85"/>
<path d="M212.4 103.3L219.4 110.3L212.4 117.3L205.4 110.3Z" fill="none" stroke="#101010" stroke-width="1.6" stroke-opacity="0.85"/>
<path d="M215.5 109.6L222.5 116.6L215.5 123.6L208.5 116.6Z" fill="none" stroke="#101010" stroke-width="1.6" stroke-opacity="0.85"/>
<path d="M219.3 113.4L226.3 120.4L219.3 127.4L212.3 120.4Z" fill="none" stroke="#101010" stroke-width="1.6" stroke-opacity="0.85"/>
<path d="M224.6 120.5L231.6 127.5L224.6 134.5L217.6 127.5Z" fill="none" stroke="#101010" stroke-width="1.6" stroke-opacity="0.85"/>
<path d="M229.3 125.9L236.3 132.9L229.3 139.9L222.3 132.9Z" fill="none" stroke="#101010" stroke-width="1.6" stroke-opacity="0.85"/>
<path d="M233.8 132.4L240.8 139.4L233.8 146.4L226.8 139.4Z" fill="none" stroke="#101010" stroke-width="1.6" stroke-opacity="0.85"/>
<path d="M236.8 137.4L243.8 144.4L236.8 151.4L229.8 144.4Z" fill="none" stroke="#101010" stroke-width="1.6" stroke-opacity="0.85"/>
<path d="M241.9 142.2L248.9 149.2L241.9 156.2L234.9 149.2Z" fill="none" stroke="#101010" stroke-width="1.6" stroke-opacity="0.85"/>
<path d="M246.3 148.9L253.3 155.9L246.3 162.9L239.3 155.9Z" fill="none" stroke="#101010" stroke-width="1.6" stroke-opacity="0.85"/>
<path d="M252.4 155.7L259.4 162.7L252.4 169.7L245.4 162.7Z" fill="none" stroke="#101010" stroke-width="1.6" stroke-opacity="0.85"/>
<path d="M255.0 160.6L262.0 167.6L255.0 174.6L248.0 167.6Z" fill="none" stroke="#101010" stroke-width="1.6" stroke-opacity="0.85"/>
<path d="M258.9 164.6L265.9 171.6L258.9 178.6L251.9 171.6Z" fill="none" stroke="#101010" stroke-width="1.6" stroke-opacity="0.85"/>
<path d="M264.9 172.7L271.9 179.7L264.9 186.7L257.9 179.7Z" fill="none" stroke="#101010" stroke-width="1.6" stroke-opacity="0.85"/>
<path d="M268.4 178.1L275.4 185.1L268.4 192.1L261.4 185.1Z" fill="none" stroke="#101010" stroke-width="1.6" stroke-opacity="0.85"/>
<path d="M275.1 182.4L282.1 189.4L275.1 196.4L268.1 189.4Z" fill="none" stroke="#101010" stroke-width="1.6" stroke-opacity="0.85"/>
<path d="M279.1 191.5L286.1 198.5L279.1 205.5L272.1 198.5Z" fill="none" stroke="#101010" stroke-width="1.6" stroke-opacity="0.85"/>
<path d="M282.6 198.6L289.6 205.6L282.6 212.6L275.6 205.6Z" fill="none" stroke="#101010" stroke-width="1.6" stroke-opacity="0.85"/>
<path d="M288.2 205.8L295.2 212.8L288.2 219.8L281.2 212.8Z" fill="none" stroke="#101010" stroke-width="1.6" stroke-opacity="0.85"/>
<path d="M292.0 213.0L299.0 220.0L292.0 227.0L285.0 220.0Z" fill="none" stroke="#101010" stroke-width="1.6" stroke-opacity="0.85"/>
<path d="M160.8 28.6L167.8 35.6L160.8 42.6L153.8 35.6Z" fill="none" stroke="#101010" stroke-width="1.5" stroke-opacity="0.8"/>
<path d="M166.0 39.0L173.0 46.0L166.0 53.0L159.0 46.0Z" fill="none" stroke="#101010" stroke-width="1.5" stroke-opacity="0.8"/>
<path d="M158.2 39.0L165.2 46.0L158.2 53.0L151.2 46.0Z" fill="none" stroke="#101010" stroke-width="1.5" stroke-opacity="0.8"/>
<path d="M205.0 81.0L212.0 88.0L205.0 95.0L198.0 88.0Z" fill="none" stroke="#101010" stroke-width="1.5" stroke-opacity="0.8"/>
<path d="M296.0 200.5L303.0 207.5L296.0 214.5L289.0 207.5Z" fill="none" stroke="#101010" stroke-width="1.5" stroke-opacity="0.8"/>
<path d="M308.6 237.4L315.6 244.4L308.6 251.4L301.6 244.4Z" fill="none" stroke="#101010" stroke-width="1.5" stroke-opacity="0.8"/>
<path d="M309.3 242.3L316.3 249.3L309.3 256.3L302.3 249.3Z" fill="none" stroke="#101010" stroke-width="1.5" stroke-opacity="0.8"/>
<path d="M319.0 251.3L326.0 258.3L319.0 265.3L312.0 258.3Z" fill="none" stroke="#101010" stroke-width="1.5" stroke-opacity="0.8"/>
<path d="M319.7 255.5L326.7 262.5L319.7 269.5L312.7 262.5Z" fill="none" stroke="#101010" stroke-width="1.5" stroke-opacity="0.8"/>
<path d="M330.0 267.3L337.0 274.3L330.0 281.3L323.0 274.3Z" fill="none" stroke="#101010" stroke-width="1.5" stroke-opacity="0.8"/>
<path d="M329.4 270.0L336.4 277.0L329.4 284.0L322.4 277.0Z" fill="none" stroke="#101010" stroke-width="1.5" stroke-opacity="0.8"/>
<path d="M338.3 277.7L345.3 284.7L338.3 291.7L331.3 284.7Z" fill="none" stroke="#101010" stroke-width="1.5" stroke-opacity="0.8"/>
<path d="M341.0 283.3L348.0 290.3L341.0 297.3L334.0 290.3Z" fill="none" stroke="#101010" stroke-width="1.5" stroke-opacity="0.8"/>
<path d="M352.4 280.5L359.4 287.5L352.4 294.5L345.4 287.5Z" fill="none" stroke="#101010" stroke-width="1.5" stroke-opacity="0.8"/>
<path d="M353.6 287.4L360.6 294.4L353.6 301.4L346.6 294.4Z" fill="none" stroke="#101010" stroke-width="1.5" stroke-opacity="0.8"/>
<path d="M367.5 283.6L374.5 290.6L367.5 297.6L360.5 290.6Z" fill="none" stroke="#101010" stroke-width="1.5" stroke-opacity="0.8"/>
<path d="M366.0 298.8L373.0 305.8L366.0 312.8L359.0 305.8Z" fill="none" stroke="#101010" stroke-width="1.5" stroke-opacity="0.8"/>
<path d="M381.4 310.0L388.4 317.0L381.4 324.0L374.4 317.0Z" fill="none" stroke="#101010" stroke-width="1.5" stroke-opacity="0.8"/>
<path d="M380.8 304.0L387.8 311.0L380.8 318.0L373.8 311.0Z" fill="none" stroke="#101010" stroke-width="1.5" stroke-opacity="0.8"/>
<path d="M398.0 323.8L405.0 330.8L398.0 337.8L391.0 330.8Z" fill="none" stroke="#101010" stroke-width="1.5" stroke-opacity="0.8"/>
<path d="M416.0 328.0L423.0 335.0L416.0 342.0L409.0 335.0Z" fill="none" stroke="#101010" stroke-width="1.5" stroke-opacity="0.8"/>
<path d="M414.7 335.0L421.7 342.0L414.7 349.0L407.7 342.0Z" fill="none" stroke="#101010" stroke-width="1.5" stroke-opacity="0.8"/>
<path d="M435.5 326.6L442.5 333.6L435.5 340.6L428.5 333.6Z" fill="none" stroke="#101010" stroke-width="1.5" stroke-opacity="0.8"/>
<path d="M435.5 336.3L442.5 343.3L435.5 350.3L428.5 343.3Z" fill="none" stroke="#101010" stroke-width="1.5" stroke-opacity="0.8"/>
<path d="M437.0 342.0L444.0 349.0L437.0 356.0L430.0 349.0Z" fill="none" stroke="#101010" stroke-width="1.5" stroke-opacity="0.8"/>
<path d="M457.8 338.6L464.8 345.6L457.8 352.6L450.8 345.6Z" fill="none" stroke="#101010" stroke-width="1.5" stroke-opacity="0.8"/>
<path d="M457.8 343.8L464.8 350.8L457.8 357.8L450.8 350.8Z" fill="none" stroke="#101010" stroke-width="1.5" stroke-opacity="0.8"/>
<path d="M456.4 348.8L463.4 355.8L456.4 362.8L449.4 355.8Z" fill="none" stroke="#101010" stroke-width="1.5" stroke-opacity="0.8"/>
<path d="M481.2 343.8L488.2 350.8L481.2 357.8L474.2 350.8Z" fill="none" stroke="#101010" stroke-width="1.5" stroke-opacity="0.8"/>
<path d="M481.2 349.0L488.2 356.0L481.2 363.0L474.2 356.0Z" fill="none" stroke="#101010" stroke-width="1.5" stroke-opacity="0.8"/>
<path d="M481.2 358.0L488.2 365.0L481.2 372.0L474.2 365.0Z" fill="none" stroke="#101010" stroke-width="1.5" stroke-opacity="0.8"/>
</g>
<g clip-path="url(#cr)">
<rect x="784.7" y="110.7" width="9.4" height="9.4" fill="none" stroke="#ff1010" stroke-width="1.5" stroke-opacity="0.5"/>
<rect x="788.1" y="112.9" width="9.4" height="9.4" fill="none" stroke="#ff1010" stroke-width="1.5" stroke-opacity="0.5"/>
<rect x="790.8" y="115.2" width="9.4" height="9.4" fill="none" stroke="#ff1010" stroke-width="1.5" stroke-opacity="0.5"/>
<rect x="794.2" y="118.1" width="9.4" height="9.4" fill="none" stroke="#ff1010" stroke-width="1.5" stroke-opacity="0.5"/>
<rect x="798.1" y="120.1" width="9.4" height="9.4" fill="none" stroke="#ff1010" stroke-width="1.5" stroke-opacity="0.5"/>
<rect x="801.4" y="123.4" width="9.4" height="9.4" fill="none" stroke="#ff1010" stroke-width="1.5" stroke-opacity="0.5"/>
<rect x="804.5" y="125.7" width="9.4" height="9.4" fill="none" stroke="#ff1010" stroke-width="1.5" stroke-opacity="0.5"/>
<rect x="807.7" y="128.5" width="9.4" height="9.4" fill="none" stroke="#ff1010" stroke-width="1.5" stroke-opacity="0.5"/>
<rect x="811.0" y="131.4" width="9.4" height="9.4" fill="none" stroke="#ff1010" stroke-width="1.5" stroke-opacity="0.5"/>
<rect x="815.1" y="133.6" width="9.4" height="9.4" fill="none" stroke="#ff1010" stroke-width="1.5" stroke-opacity="0.5"/>
<rect x="818.0" y="136.4" width="9.4" height="9.4" fill="none" stroke="#ff1010" stroke-width="1.5" stroke-opacity="0.5"/>
<rect x="822.0" y="138.2" width="9.4" height="9.4" fill="none" stroke="#ff1010" stroke-width="1.5" stroke-opacity="0.5"/>
<rect x="825.2" y="141.5" width="9.4" height="9.4" fill="none" stroke="#ff1010" stroke-width="1.5" stroke-opacity="0.5"/>
<rect x="828.5" y="143.9" width="9.4" height="9.4" fill="none" stroke="#ff1010" stroke-width="1.5" stroke-opacity="0.5"/>
<rect x="831.7" y="146.7" width="9.4" height="9.4" fill="none" stroke="#ff1010" stroke-width="1.5" stroke-opacity="0.5"/>
<rect x="835.6" y="148.8" width="9.4" height="9.4" fill="none" stroke="#ff1010" stroke-width="1.5" stroke-opacity="0.5"/>
<rect x="838.8" y="151.4" width="9.4" height="9.4" fill="none" stroke="#ff1010" stroke-width="1.5" stroke-opacity="0.5"/>
<rect x="841.6" y="153.9" width="9.4" height="9.4" fill="none" stroke="#ff1010" stroke-width="1.5" stroke-opacity="0.5"/>
<rect x="845.3" y="156.6" width="9.4" height="9.4" fill="none" stroke="#ff1010" stroke-width="1.5" stroke-opacity="0.5"/>
<rect x="848.0" y="159.2" width="9.4" height="9.4" fill="none" stroke="#ff1010" stroke-width="1.5" stroke-opacity="0.55"/>
<rect x="853.9" y="162.6" width="9.4" height="9.4" fill="none" stroke="#ff1010" stroke-width="1.5" stroke-opacity="0.55"/>
<rect x="858.9" y="166.8" width="9.4" height="9.4" fill="none" stroke="#ff1010" stroke-width="1.5" stroke-opacity="0.55"/>
<rect x="863.7" y="170.7" width="9.4" height="9.4" fill="none" stroke="#ff1010" stroke-width="1.5" stroke-opacity="0.55"/>
<rect x="869.1" y="175.0" width="9.4" height="9.4" fill="none" stroke="#ff1010" stroke-width="1.5" stroke-opacity="0.55"/>
<rect x="874.2" y="178.6" width="9.4" height="9.4" fill="none" stroke="#ff1010" stroke-width="1.5" stroke-opacity="0.55"/>
<rect x="879.8" y="182.4" width="9.4" height="9.4" fill="none" stroke="#ff1010" stroke-width="1.5" stroke-opacity="0.55"/>
<rect x="885.2" y="186.8" width="9.4" height="9.4" fill="none" stroke="#ff1010" stroke-width="1.5" stroke-opacity="0.55"/>
<rect x="890.6" y="190.5" width="9.4" height="9.4" fill="none" stroke="#ff1010" stroke-width="1.5" stroke-opacity="0.55"/>
<rect x="895.4" y="194.8" width="9.4" height="9.4" fill="none" stroke="#ff1010" stroke-width="1.5" stroke-opacity="0.55"/>
<rect x="900.6" y="198.8" width="9.4" height="9.4" fill="none" stroke="#ff1010" stroke-width="1.5" stroke-opacity="0.55"/>
<rect x="905.9" y="202.8" width="9.4" height="9.4" fill="none" stroke="#ff1010" stroke-width="1.5" stroke-opacity="0.55"/>
<rect x="911.5" y="206.9" width="9.4" height="9.4" fill="none" stroke="#ff1010" stroke-width="1.5" stroke-opacity="0.55"/>
<rect x="916.9" y="210.7" width="9.4" height="9.4" fill="none" stroke="#ff1010" stroke-width="1.5" stroke-opacity="0.55"/>
<rect x="921.8" y="214.9" width="9.4" height="9.4" fill="none" stroke="#ff1010" stroke-width="1.5" stroke-opacity="0.55"/>
<rect x="927.3" y="218.7" width="9.4" height="9.4" fill="none" stroke="#ff1010" stroke-width="1.5" stroke-opacity="0.55"/>
<rect x="932.2" y="222.4" width="9.4" height="9.4" fill="none" stroke="#ff1010" stroke-width="1.5" stroke-opacity="0.55"/>
<rect x="937.2" y="226.8" width="9.4" height="9.4" fill="none" stroke="#ff1010" stroke-width="1.5" stroke-opacity="0.55"/>
<rect x="942.5" y="230.7" width="9.4" height="9.4" fill="none" stroke="#ff1010" stroke-width="1.5" stroke-opacity="0.55"/>
<rect x="948.1" y="234.9" width="9.4" height="9.4" fill="none" stroke="#ff1010" stroke-width="1.5" stroke-opacity="0.55"/>
<rect x="953.3" y="238.5" width="9.4" height="9.4" fill="none" stroke="#ff1010" stroke-width="1.5" stroke-opacity="0.55"/>
<rect x="956.6" y="241.3" width="9.4" height="9.4" fill="none" stroke="#ff1010" stroke-width="1.5" stroke-opacity="0.5"/>
<rect x="959.3" y="243.3" width="9.4" height="9.4" fill="none" stroke="#ff1010" stroke-width="1.5" stroke-opacity="0.5"/>
<rect x="963.1" y="245.7" width="9.4" height="9.4" fill="none" stroke="#ff1010" stroke-width="1.5" stroke-opacity="0.5"/>
<rect x="966.4" y="248.3" width="9.4" height="9.4" fill="none" stroke="#ff1010" stroke-width="1.5" stroke-opacity="0.5"/>
<rect x="969.7" y="250.5" width="9.4" height="9.4" fill="none" stroke="#ff1010" stroke-width="1.5" stroke-opacity="0.5"/>
<rect x="973.0" y="253.5" width="9.4" height="9.4" fill="none" stroke="#ff1010" stroke-width="1.5" stroke-opacity="0.5"/>
<rect x="976.2" y="256.0" width="9.4" height="9.4" fill="none" stroke="#ff1010" stroke-width="1.5" stroke-opacity="0.5"/>
<rect x="980.1" y="258.8" width="9.4" height="9.4" fill="none" stroke="#ff1010" stroke-width="1.5" stroke-opacity="0.5"/>
<rect x="983.1" y="261.3" width="9.4" height="9.4" fill="none" stroke="#ff1010" stroke-width="1.5" stroke-opacity="0.5"/>
<rect x="986.4" y="263.4" width="9.4" height="9.4" fill="none" stroke="#ff1010" stroke-width="1.5" stroke-opacity="0.5"/>
<rect x="989.3" y="266.0" width="9.4" height="9.4" fill="none" stroke="#ff1010" stroke-width="1.5" stroke-opacity="0.5"/>
<rect x="993.3" y="269.2" width="9.4" height="9.4" fill="none" stroke="#ff1010" stroke-width="1.5" stroke-opacity="0.5"/>
<rect x="996.9" y="271.3" width="9.4" height="9.4" fill="none" stroke="#ff1010" stroke-width="1.5" stroke-opacity="0.5"/>
<rect x="1000.4" y="273.8" width="9.4" height="9.4" fill="none" stroke="#ff1010" stroke-width="1.5" stroke-opacity="0.5"/>
<rect x="1003.6" y="276.3" width="9.4" height="9.4" fill="none" stroke="#ff1010" stroke-width="1.5" stroke-opacity="0.5"/>
<rect x="1006.8" y="279.4" width="9.4" height="9.4" fill="none" stroke="#ff1010" stroke-width="1.5" stroke-opacity="0.5"/>
<rect x="1009.8" y="281.2" width="9.4" height="9.4" fill="none" stroke="#ff1010" stroke-width="1.5" stroke-opacity="0.5"/>
<rect x="1013.4" y="284.1" width="9.4" height="9.4" fill="none" stroke="#ff1010" stroke-width="1.5" stroke-opacity="0.5"/>
<rect x="1016.5" y="286.1" width="9.4" height="9.4" fill="none" stroke="#ff1010" stroke-width="1.5" stroke-opacity="0.5"/>
<rect x="1019.9" y="289.1" width="9.4" height="9.4" fill="none" stroke="#ff1010" stroke-width="1.5" stroke-opacity="0.5"/>
<rect x="1023.3" y="292.0" width="9.4" height="9.4" fill="none" stroke="#ff1010" stroke-width="1.5" stroke-opacity="0.5"/>
<rect x="1026.8" y="294.5" width="9.4" height="9.4" fill="none" stroke="#ff1010" stroke-width="1.5" stroke-opacity="0.5"/>
<rect x="1030.5" y="297.0" width="9.4" height="9.4" fill="none" stroke="#ff1010" stroke-width="1.5" stroke-opacity="0.5"/>
<rect x="1033.4" y="299.6" width="9.4" height="9.4" fill="none" stroke="#ff1010" stroke-width="1.5" stroke-opacity="0.5"/>
<rect x="1036.9" y="302.0" width="9.4" height="9.4" fill="none" stroke="#ff1010" stroke-width="1.5" stroke-opacity="0.5"/>
<rect x="1040.3" y="304.3" width="9.4" height="9.4" fill="none" stroke="#ff1010" stroke-width="1.5" stroke-opacity="0.5"/>
<rect x="1043.6" y="307.1" width="9.4" height="9.4" fill="none" stroke="#ff1010" stroke-width="1.5" stroke-opacity="0.5"/>
<rect x="1047.3" y="309.8" width="9.4" height="9.4" fill="none" stroke="#ff1010" stroke-width="1.5" stroke-opacity="0.5"/>
<rect x="1050.5" y="312.3" width="9.4" height="9.4" fill="none" stroke="#ff1010" stroke-width="1.5" stroke-opacity="0.5"/>
<rect x="1053.9" y="314.7" width="9.4" height="9.4" fill="none" stroke="#ff1010" stroke-width="1.5" stroke-opacity="0.5"/>
<rect x="1056.7" y="316.9" width="9.4" height="9.4" fill="none" stroke="#ff1010" stroke-width="1.5" stroke-opacity="0.5"/>
<rect x="1060.4" y="320.0" width="9.4" height="9.4" fill="none" stroke="#ff1010" stroke-width="1.5" stroke-opacity="0.5"/>
<rect x="1063.6" y="321.9" width="9.4" height="9.4" fill="none" stroke="#ff1010" stroke-width="1.5" stroke-opacity="0.5"/>
<rect x="1067.3" y="324.7" width="9.4" height="9.4" fill="none" stroke="#ff1010" stroke-width="1.5" stroke-opacity="0.5"/>
<rect x="1070.3" y="327.3" width="9.4" height="9.4" fill="none" stroke="#ff1010" stroke-width="1.5" stroke-opacity="0.5"/>
<rect x="1075.3" y="329.3" width="9.4" height="9.4" fill="none" stroke="#ff1010" stroke-width="1.5" stroke-opacity="0.62"/>
<rect x="1081.3" y="335.3" width="9.4" height="9.4" fill="none" stroke="#ff1010" stroke-width="1.5" stroke-opacity="0.62"/>
<rect x="1086.3" y="339.3" width="9.4" height="9.4" fill="none" stroke="#ff1010" stroke-width="1.5" stroke-opacity="0.62"/>
<rect x="1088.3" y="343.3" width="9.4" height="9.4" fill="none" stroke="#ff1010" stroke-width="1.5" stroke-opacity="0.62"/>
<rect x="1088.3" y="349.9" width="9.4" height="9.4" fill="none" stroke="#ff1010" stroke-width="1.5" stroke-opacity="0.62"/>
<rect x="1130.0" y="360.3" width="9.4" height="9.4" fill="none" stroke="#ff1010" stroke-width="1.5" stroke-opacity="0.62"/>
<rect x="1130.0" y="365.5" width="9.4" height="9.4" fill="none" stroke="#ff1010" stroke-width="1.5" stroke-opacity="0.62"/>
<rect x="1130.0" y="393.3" width="9.4" height="9.4" fill="none" stroke="#ff1010" stroke-width="1.5" stroke-opacity="0.62"/>
<rect x="1152.5" y="377.7" width="9.4" height="9.4" fill="none" stroke="#ff1010" stroke-width="1.5" stroke-opacity="0.62"/>
<rect x="1152.5" y="386.3" width="9.4" height="9.4" fill="none" stroke="#ff1010" stroke-width="1.5" stroke-opacity="0.62"/>
<rect x="1176.8" y="393.3" width="9.4" height="9.4" fill="none" stroke="#ff1010" stroke-width="1.5" stroke-opacity="0.62"/>
<rect x="1204.6" y="398.5" width="9.4" height="9.4" fill="none" stroke="#ff1010" stroke-width="1.5" stroke-opacity="0.62"/>
<rect x="1204.6" y="410.6" width="9.4" height="9.4" fill="none" stroke="#ff1010" stroke-width="1.5" stroke-opacity="0.62"/>
<rect x="1204.6" y="422.8" width="9.4" height="9.4" fill="none" stroke="#ff1010" stroke-width="1.5" stroke-opacity="0.62"/>
<rect x="1233.1" y="418.7" width="9.4" height="9.4" fill="none" stroke="#ff1010" stroke-width="1.5" stroke-opacity="0.62"/>
<rect x="1233.1" y="435.3" width="9.4" height="9.4" fill="none" stroke="#ff1010" stroke-width="1.5" stroke-opacity="0.62"/>
<rect x="1233.1" y="447.3" width="9.4" height="9.4" fill="none" stroke="#ff1010" stroke-width="1.5" stroke-opacity="0.62"/>
<circle cx="788.3" cy="93.9" r="4.9" fill="none" stroke="#1010f0" stroke-width="1.8" stroke-opacity="0.7"/>
<circle cx="796.7" cy="99.4" r="4.9" fill="none" stroke="#1010f0" stroke-width="1.8" stroke-opacity="0.7"/>
<circle cx="805.0" cy="103.6" r="4.9" fill="none" stroke="#1010f0" stroke-width="1.8" stroke-opacity="0.7"/>
<circle cx="813.3" cy="110.6" r="4.9" fill="none" stroke="#1010f0" stroke-width="1.8" stroke-opacity="0.7"/>
<circle cx="821.7" cy="116.0" r="4.9" fill="none" stroke="#1010f0" stroke-width="1.8" stroke-opacity="0.7"/>
<circle cx="830.0" cy="123.0" r="4.9" fill="none" stroke="#1010f0" stroke-width="1.8" stroke-opacity="0.7"/>
<circle cx="839.7" cy="128.6" r="4.9" fill="none" stroke="#1010f0" stroke-width="1.8" stroke-opacity="0.7"/>
<circle cx="849.4" cy="137.0" r="4.9" fill="none" stroke="#1010f0" stroke-width="1.8" stroke-opacity="0.7"/>
<circle cx="856.0" cy="143.0" r="4.9" fill="none" stroke="#1010f0" stroke-width="1.8" stroke-opacity="0.7"/>
<circle cx="861.9" cy="145.1" r="4.9" fill="none" stroke="#1010f0" stroke-width="1.8" stroke-opacity="0.7"/>
<circle cx="866.6" cy="149.9" r="4.9" fill="none" stroke="#1010f0" stroke-width="1.8" stroke-opacity="0.7"/>
<circle cx="871.0" cy="152.6" r="4.9" fill="none" stroke="#1010f0" stroke-width="1.8" stroke-opacity="0.7"/>
<circle cx="876.1" cy="155.4" r="4.9" fill="none" stroke="#1010f0" stroke-width="1.8" stroke-opacity="0.7"/>
<circle cx="880.4" cy="160.7" r="4.9" fill="none" stroke="#1010f0" stroke-width="1.8" stroke-opacity="0.7"/>
<circle cx="885.4" cy="163.1" r="4.9" fill="none" stroke="#1010f0" stroke-width="1.8" stroke-opacity="0.7"/>
<circle cx="890.0" cy="166.9" r="4.9" fill="none" stroke="#1010f0" stroke-width="1.8" stroke-opacity="0.7"/>
<circle cx="893.6" cy="169.6" r="4.9" fill="none" stroke="#1010f0" stroke-width="1.8" stroke-opacity="0.7"/>
<circle cx="899.6" cy="173.1" r="4.9" fill="none" stroke="#1010f0" stroke-width="1.8" stroke-opacity="0.7"/>
<circle cx="902.5" cy="177.7" r="4.9" fill="none" stroke="#1010f0" stroke-width="1.8" stroke-opacity="0.7"/>
<circle cx="908.0" cy="180.2" r="4.9" fill="none" stroke="#1010f0" stroke-width="1.8" stroke-opacity="0.7"/>
<circle cx="912.6" cy="184.4" r="4.9" fill="none" stroke="#1010f0" stroke-width="1.8" stroke-opacity="0.7"/>
<circle cx="916.5" cy="187.7" r="4.9" fill="none" stroke="#1010f0" stroke-width="1.8" stroke-opacity="0.7"/>
<circle cx="922.2" cy="191.5" r="4.9" fill="none" stroke="#1010f0" stroke-width="1.8" stroke-opacity="0.7"/>
<circle cx="925.9" cy="194.5" r="4.9" fill="none" stroke="#1010f0" stroke-width="1.8" stroke-opacity="0.7"/>
<circle cx="930.5" cy="197.9" r="4.9" fill="none" stroke="#1010f0" stroke-width="1.8" stroke-opacity="0.7"/>
<circle cx="934.9" cy="201.8" r="4.9" fill="none" stroke="#1010f0" stroke-width="1.8" stroke-opacity="0.7"/>
<circle cx="940.9" cy="204.3" r="4.9" fill="none" stroke="#1010f0" stroke-width="1.8" stroke-opacity="0.7"/>
<circle cx="944.2" cy="209.0" r="4.9" fill="none" stroke="#1010f0" stroke-width="1.8" stroke-opacity="0.7"/>
<circle cx="949.8" cy="212.2" r="4.9" fill="none" stroke="#1010f0" stroke-width="1.8" stroke-opacity="0.7"/>
<circle cx="953.1" cy="215.8" r="4.9" fill="none" stroke="#1010f0" stroke-width="1.8" stroke-opacity="0.7"/>
<circle cx="958.8" cy="218.1" r="4.9" fill="none" stroke="#1010f0" stroke-width="1.8" stroke-opacity="0.7"/>
<circle cx="963.1" cy="222.4" r="4.9" fill="none" stroke="#1010f0" stroke-width="1.8" stroke-opacity="0.7"/>
<circle cx="968.4" cy="224.7" r="4.9" fill="none" stroke="#1010f0" stroke-width="1.8" stroke-opacity="0.7"/>
<circle cx="972.7" cy="228.1" r="4.9" fill="none" stroke="#1010f0" stroke-width="1.8" stroke-opacity="0.7"/>
<circle cx="977.9" cy="232.1" r="4.9" fill="none" stroke="#1010f0" stroke-width="1.8" stroke-opacity="0.7"/>
<circle cx="982.4" cy="236.2" r="4.9" fill="none" stroke="#1010f0" stroke-width="1.8" stroke-opacity="0.7"/>
<circle cx="986.4" cy="238.7" r="4.9" fill="none" stroke="#1010f0" stroke-width="1.8" stroke-opacity="0.7"/>
<circle cx="990.9" cy="241.9" r="4.9" fill="none" stroke="#1010f0" stroke-width="1.8" stroke-opacity="0.7"/>
<circle cx="994.7" cy="246.5" r="4.9" fill="none" stroke="#1010f0" stroke-width="1.8" stroke-opacity="0.7"/>
<circle cx="999.7" cy="250.0" r="4.9" fill="none" stroke="#1010f0" stroke-width="1.8" stroke-opacity="0.7"/>
<circle cx="1004.0" cy="253.3" r="4.9" fill="none" stroke="#1010f0" stroke-width="1.8" stroke-opacity="0.7"/>
<circle cx="1009.5" cy="255.9" r="4.9" fill="none" stroke="#1010f0" stroke-width="1.8" stroke-opacity="0.7"/>
<circle cx="1012.8" cy="259.5" r="4.9" fill="none" stroke="#1010f0" stroke-width="1.8" stroke-opacity="0.7"/>
<circle cx="1018.2" cy="262.3" r="4.9" fill="none" stroke="#1010f0" stroke-width="1.8" stroke-opacity="0.7"/>
<circle cx="1022.1" cy="265.7" r="4.9" fill="none" stroke="#1010f0" stroke-width="1.8" stroke-opacity="0.7"/>
<circle cx="1027.5" cy="270.7" r="4.9" fill="none" stroke="#1010f0" stroke-width="1.8" stroke-opacity="0.7"/>
<circle cx="1031.3" cy="272.4" r="4.9" fill="none" stroke="#1010f0" stroke-width="1.8" stroke-opacity="0.7"/>
<circle cx="1036.8" cy="277.4" r="4.9" fill="none" stroke="#1010f0" stroke-width="1.8" stroke-opacity="0.7"/>
<circle cx="1041.8" cy="280.4" r="4.9" fill="none" stroke="#1010f0" stroke-width="1.8" stroke-opacity="0.7"/>
<circle cx="1045.1" cy="284.3" r="4.9" fill="none" stroke="#1010f0" stroke-width="1.8" stroke-opacity="0.7"/>
<circle cx="1049.2" cy="287.4" r="4.9" fill="none" stroke="#1010f0" stroke-width="1.8" stroke-opacity="0.7"/>
<circle cx="1053.7" cy="290.2" r="4.9" fill="none" stroke="#1010f0" stroke-width="1.8" stroke-opacity="0.7"/>
<circle cx="1059.1" cy="293.6" r="4.9" fill="none" stroke="#1010f0" stroke-width="1.8" stroke-opacity="0.7"/>
<circle cx="1063.0" cy="296.7" r="4.9" fill="none" stroke="#1010f0" stroke-width="1.8" stroke-opacity="0.7"/>
<circle cx="1068.8" cy="300.6" r="4.9" fill="none" stroke="#1010f0" stroke-width="1.8" stroke-opacity="0.7"/>
<circle cx="1072.9" cy="303.5" r="4.9" fill="none" stroke="#1010f0" stroke-width="1.8" stroke-opacity="0.7"/>
<circle cx="1077.7" cy="307.1" r="4.9" fill="none" stroke="#1010f0" stroke-width="1.8" stroke-opacity="0.7"/>
<circle cx="1082.0" cy="311.7" r="4.9" fill="none" stroke="#1010f0" stroke-width="1.8" stroke-opacity="0.7"/>
<circle cx="1087.4" cy="313.4" r="4.9" fill="none" stroke="#1010f0" stroke-width="1.8" stroke-opacity="0.7"/>
<circle cx="1091.5" cy="318.4" r="4.9" fill="none" stroke="#1010f0" stroke-width="1.8" stroke-opacity="0.7"/>
<circle cx="1095.1" cy="320.9" r="4.9" fill="none" stroke="#1010f0" stroke-width="1.8" stroke-opacity="0.7"/>
<circle cx="1100.0" cy="324.5" r="4.9" fill="none" stroke="#1010f0" stroke-width="1.8" stroke-opacity="0.7"/>
<circle cx="1104.0" cy="325.0" r="4.9" fill="none" stroke="#1010f0" stroke-width="1.8" stroke-opacity="0.8"/>
<circle cx="1117.3" cy="339.0" r="4.9" fill="none" stroke="#1010f0" stroke-width="1.8" stroke-opacity="0.8"/>
<circle cx="1127.7" cy="346.0" r="4.9" fill="none" stroke="#1010f0" stroke-width="1.8" stroke-opacity="0.8"/>
<circle cx="1138.1" cy="352.8" r="4.9" fill="none" stroke="#1010f0" stroke-width="1.8" stroke-opacity="0.8"/>
<circle cx="1150.3" cy="361.5" r="4.9" fill="none" stroke="#1010f0" stroke-width="1.8" stroke-opacity="0.8"/>
<circle cx="1162.4" cy="370.2" r="4.9" fill="none" stroke="#1010f0" stroke-width="1.8" stroke-opacity="0.8"/>
<circle cx="1174.6" cy="377.0" r="4.9" fill="none" stroke="#1010f0" stroke-width="1.8" stroke-opacity="0.8"/>
<circle cx="1186.7" cy="385.8" r="4.9" fill="none" stroke="#1010f0" stroke-width="1.8" stroke-opacity="0.8"/>
<circle cx="1200.0" cy="394.8" r="4.9" fill="none" stroke="#1010f0" stroke-width="1.8" stroke-opacity="0.8"/>
<circle cx="1213.8" cy="403.4" r="4.9" fill="none" stroke="#1010f0" stroke-width="1.8" stroke-opacity="0.8"/>
<circle cx="1227.7" cy="412.0" r="4.9" fill="none" stroke="#1010f0" stroke-width="1.8" stroke-opacity="0.8"/>
<circle cx="1258.0" cy="430.3" r="4.9" fill="none" stroke="#1010f0" stroke-width="1.8" stroke-opacity="0.8"/>
<path d="M784.2 54.3L791.2 66.2L777.2 66.2Z" fill="none" stroke="#10d010" stroke-width="1.5" stroke-linejoin="miter" stroke-opacity="0.55"/>
<path d="M786.8 56.3L793.8 68.2L779.8 68.2Z" fill="none" stroke="#10d010" stroke-width="1.5" stroke-linejoin="miter" stroke-opacity="0.55"/>
<path d="M790.5 56.9L797.5 68.8L783.5 68.8Z" fill="none" stroke="#10d010" stroke-width="1.5" stroke-linejoin="miter" stroke-opacity="0.55"/>
<path d="M793.9 58.7L800.9 70.6L786.9 70.6Z" fill="none" stroke="#10d010" stroke-width="1.5" stroke-linejoin="miter" stroke-opacity="0.55"/>
<path d="M795.3 62.1L802.3 74.0L788.3 74.0Z" fill="none" stroke="#10d010" stroke-width="1.5" stroke-linejoin="miter" stroke-opacity="0.55"/>
<path d="M798.2 63.6L805.2 75.5L791.2 75.5Z" fill="none" stroke="#10d010" stroke-width="1.5" stroke-linejoin="miter" stroke-opacity="0.55"/>
<path d="M801.3 65.8L808.3 77.7L794.3 77.7Z" fill="none" stroke="#10d010" stroke-width="1.5" stroke-linejoin="miter" stroke-opacity="0.55"/>
<path d="M805.7 68.8L812.7 80.7L798.7 80.7Z" fill="none" stroke="#10d010" stroke-width="1.5" stroke-linejoin="miter" stroke-opacity="0.55"/>
<path d="M807.1 69.2L814.1 81.1L800.1 81.1Z" fill="none" stroke="#10d010" stroke-width="1.5" stroke-linejoin="miter" stroke-opacity="0.55"/>
<path d="M811.8 71.2L818.8 83.1L804.8 83.1Z" fill="none" stroke="#10d010" stroke-width="1.5" stroke-linejoin="miter" stroke-opacity="0.55"/>
<path d="M813.6 73.5L820.6 85.4L806.6 85.4Z" fill="none" stroke="#10d010" stroke-width="1.5" stroke-linejoin="miter" stroke-opacity="0.55"/>
<path d="M816.3 75.3L823.3 87.2L809.3 87.2Z" fill="none" stroke="#10d010" stroke-width="1.5" stroke-linejoin="miter" stroke-opacity="0.55"/>
<path d="M820.4 78.9L827.4 90.8L813.4 90.8Z" fill="none" stroke="#10d010" stroke-width="1.5" stroke-linejoin="miter" stroke-opacity="0.55"/>
<path d="M823.5 81.1L830.5 93.0L816.5 93.0Z" fill="none" stroke="#10d010" stroke-width="1.5" stroke-linejoin="miter" stroke-opacity="0.55"/>
<path d="M826.5 82.3L833.5 94.2L819.5 94.2Z" fill="none" stroke="#10d010" stroke-width="1.5" stroke-linejoin="miter" stroke-opacity="0.55"/>
<path d="M829.4 85.5L836.4 97.4L822.4 97.4Z" fill="none" stroke="#10d010" stroke-width="1.5" stroke-linejoin="miter" stroke-opacity="0.55"/>
<path d="M832.4 86.2L839.4 98.1L825.4 98.1Z" fill="none" stroke="#10d010" stroke-width="1.5" stroke-linejoin="miter" stroke-opacity="0.55"/>
<path d="M834.3 89.6L841.3 101.5L827.3 101.5Z" fill="none" stroke="#10d010" stroke-width="1.5" stroke-linejoin="miter" stroke-opacity="0.55"/>
<path d="M838.4 90.5L845.4 102.4L831.4 102.4Z" fill="none" stroke="#10d010" stroke-width="1.5" stroke-linejoin="miter" stroke-opacity="0.55"/>
<path d="M841.4 93.0L848.4 104.9L834.4 104.9Z" fill="none" stroke="#10d010" stroke-width="1.5" stroke-linejoin="miter" stroke-opacity="0.55"/>
<path d="M844.2 94.1L851.2 106.0L837.2 106.0Z" fill="none" stroke="#10d010" stroke-width="1.5" stroke-linejoin="miter" stroke-opacity="0.55"/>
<path d="M846.9 96.9L853.9 108.8L839.9 108.8Z" fill="none" stroke="#10d010" stroke-width="1.5" stroke-linejoin="miter" stroke-opacity="0.55"/>
<path d="M849.6 99.9L856.6 111.8L842.6 111.8Z" fill="none" stroke="#10d010" stroke-width="1.5" stroke-linejoin="miter" stroke-opacity="0.55"/>
<path d="M853.1 101.5L860.1 113.4L846.1 113.4Z" fill="none" stroke="#10d010" stroke-width="1.5" stroke-linejoin="miter" stroke-opacity="0.55"/>
<path d="M856.7 103.8L863.7 115.7L849.7 115.7Z" fill="none" stroke="#10d010" stroke-width="1.5" stroke-linejoin="miter" stroke-opacity="0.55"/>
<path d="M859.7 105.9L866.7 117.8L852.7 117.8Z" fill="none" stroke="#10d010" stroke-width="1.5" stroke-linejoin="miter" stroke-opacity="0.55"/>
<path d="M861.8 108.4L868.8 120.3L854.8 120.3Z" fill="none" stroke="#10d010" stroke-width="1.5" stroke-linejoin="miter" stroke-opacity="0.55"/>
<path d="M864.6 110.3L871.6 122.2L857.6 122.2Z" fill="none" stroke="#10d010" stroke-width="1.5" stroke-linejoin="miter" stroke-opacity="0.55"/>
<path d="M869.0 112.3L876.0 124.2L862.0 124.2Z" fill="none" stroke="#10d010" stroke-width="1.5" stroke-linejoin="miter" stroke-opacity="0.55"/>
<path d="M870.4 112.8L877.4 124.7L863.4 124.7Z" fill="none" stroke="#10d010" stroke-width="1.5" stroke-linejoin="miter" stroke-opacity="0.55"/>
<path d="M874.9 115.7L881.9 127.6L867.9 127.6Z" fill="none" stroke="#10d010" stroke-width="1.5" stroke-linejoin="miter" stroke-opacity="0.55"/>
<path d="M877.0 118.8L884.0 130.7L870.0 130.7Z" fill="none" stroke="#10d010" stroke-width="1.5" stroke-linejoin="miter" stroke-opacity="0.55"/>
<path d="M879.4 120.0L886.4 131.9L872.4 131.9Z" fill="none" stroke="#10d010" stroke-width="1.5" stroke-linejoin="miter" stroke-opacity="0.55"/>
<path d="M883.2 121.2L890.2 133.1L876.2 133.1Z" fill="none" stroke="#10d010" stroke-width="1.5" stroke-linejoin="miter" stroke-opacity="0.55"/>
<path d="M886.1 124.5L893.1 136.4L879.1 136.4Z" fill="none" stroke="#10d010" stroke-width="1.5" stroke-linejoin="miter" stroke-opacity="0.55"/>
<path d="M890.1 125.2L897.1 137.1L883.1 137.1Z" fill="none" stroke="#10d010" stroke-width="1.5" stroke-linejoin="miter" stroke-opacity="0.55"/>
<path d="M892.4 127.4L899.4 139.3L885.4 139.3Z" fill="none" stroke="#10d010" stroke-width="1.5" stroke-linejoin="miter" stroke-opacity="0.55"/>
<path d="M896.0 129.4L903.0 141.3L889.0 141.3Z" fill="none" stroke="#10d010" stroke-width="1.5" stroke-linejoin="miter" stroke-opacity="0.55"/>
<path d="M897.4 132.1L904.4 144.0L890.4 144.0Z" fill="none" stroke="#10d010" stroke-width="1.5" stroke-linejoin="miter" stroke-opacity="0.55"/>
<path d="M901.8 134.1L908.8 146.0L894.8 146.0Z" fill="none" stroke="#10d010" stroke-width="1.5" stroke-linejoin="miter" stroke-opacity="0.55"/>
<path d="M903.6 137.1L910.6 149.0L896.6 149.0Z" fill="none" stroke="#10d010" stroke-width="1.5" stroke-linejoin="miter" stroke-opacity="0.55"/>
<path d="M908.0 139.3L915.0 151.2L901.0 151.2Z" fill="none" stroke="#10d010" stroke-width="1.5" stroke-linejoin="miter" stroke-opacity="0.55"/>
<path d="M910.0 140.5L917.0 152.4L903.0 152.4Z" fill="none" stroke="#10d010" stroke-width="1.5" stroke-linejoin="miter" stroke-opacity="0.55"/>
<path d="M912.9 142.8L919.9 154.7L905.9 154.7Z" fill="none" stroke="#10d010" stroke-width="1.5" stroke-linejoin="miter" stroke-opacity="0.55"/>
<path d="M916.1 144.5L923.1 156.4L909.1 156.4Z" fill="none" stroke="#10d010" stroke-width="1.5" stroke-linejoin="miter" stroke-opacity="0.55"/>
<path d="M920.0 147.8L927.0 159.7L913.0 159.7Z" fill="none" stroke="#10d010" stroke-width="1.5" stroke-linejoin="miter" stroke-opacity="0.55"/>
<path d="M922.6 148.2L929.6 160.1L915.6 160.1Z" fill="none" stroke="#10d010" stroke-width="1.5" stroke-linejoin="miter" stroke-opacity="0.55"/>
<path d="M925.8 150.9L932.8 162.8L918.8 162.8Z" fill="none" stroke="#10d010" stroke-width="1.5" stroke-linejoin="miter" stroke-opacity="0.55"/>
<path d="M929.4 153.6L936.4 165.5L922.4 165.5Z" fill="none" stroke="#10d010" stroke-width="1.5" stroke-linejoin="miter" stroke-opacity="0.55"/>
<path d="M932.1 155.6L939.1 167.5L925.1 167.5Z" fill="none" stroke="#10d010" stroke-width="1.5" stroke-linejoin="miter" stroke-opacity="0.55"/>
<path d="M934.5 158.1L941.5 170.0L927.5 170.0Z" fill="none" stroke="#10d010" stroke-width="1.5" stroke-linejoin="miter" stroke-opacity="0.55"/>
<path d="M938.1 158.9L945.1 170.8L931.1 170.8Z" fill="none" stroke="#10d010" stroke-width="1.5" stroke-linejoin="miter" stroke-opacity="0.55"/>
<path d="M939.8 161.2L946.8 173.1L932.8 173.1Z" fill="none" stroke="#10d010" stroke-width="1.5" stroke-linejoin="miter" stroke-opacity="0.55"/>
<path d="M943.5 162.7L950.5 174.6L936.5 174.6Z" fill="none" stroke="#10d010" stroke-width="1.5" stroke-linejoin="miter" stroke-opacity="0.55"/>
<path d="M946.2 165.7L953.2 177.6L939.2 177.6Z" fill="none" stroke="#10d010" stroke-width="1.5" stroke-linejoin="miter" stroke-opacity="0.55"/>
<path d="M948.6 168.3L955.6 180.2L941.6 180.2Z" fill="none" stroke="#10d010" stroke-width="1.5" stroke-linejoin="miter" stroke-opacity="0.55"/>
<path d="M952.8 169.3L959.8 181.2L945.8 181.2Z" fill="none" stroke="#10d010" stroke-width="1.5" stroke-linejoin="miter" stroke-opacity="0.55"/>
<path d="M955.1 171.5L962.1 183.4L948.1 183.4Z" fill="none" stroke="#10d010" stroke-width="1.5" stroke-linejoin="miter" stroke-opacity="0.55"/>
<path d="M958.2 174.4L965.2 186.3L951.2 186.3Z" fill="none" stroke="#10d010" stroke-width="1.5" stroke-linejoin="miter" stroke-opacity="0.55"/>
<path d="M961.6 176.0L968.6 187.9L954.6 187.9Z" fill="none" stroke="#10d010" stroke-width="1.5" stroke-linejoin="miter" stroke-opacity="0.55"/>
<path d="M963.9 178.9L970.9 190.8L956.9 190.8Z" fill="none" stroke="#10d010" stroke-width="1.5" stroke-linejoin="miter" stroke-opacity="0.55"/>
<path d="M967.2 179.8L974.2 191.7L960.2 191.7Z" fill="none" stroke="#10d010" stroke-width="1.5" stroke-linejoin="miter" stroke-opacity="0.55"/>
<path d="M969.7 183.1L976.7 195.0L962.7 195.0Z" fill="none" stroke="#10d010" stroke-width="1.5" stroke-linejoin="miter" stroke-opacity="0.55"/>
<path d="M973.6 185.1L980.6 197.0L966.6 197.0Z" fill="none" stroke="#10d010" stroke-width="1.5" stroke-linejoin="miter" stroke-opacity="0.55"/>
<path d="M977.5 187.3L984.5 199.2L970.5 199.2Z" fill="none" stroke="#10d010" stroke-width="1.5" stroke-linejoin="miter" stroke-opacity="0.55"/>
<path d="M980.3 189.3L987.3 201.2L973.3 201.2Z" fill="none" stroke="#10d010" stroke-width="1.5" stroke-linejoin="miter" stroke-opacity="0.55"/>
<path d="M983.5 191.1L990.5 203.0L976.5 203.0Z" fill="none" stroke="#10d010" stroke-width="1.5" stroke-linejoin="miter" stroke-opacity="0.55"/>
<path d="M984.9 192.6L991.9 204.5L977.9 204.5Z" fill="none" stroke="#10d010" stroke-width="1.5" stroke-linejoin="miter" stroke-opacity="0.55"/>
<path d="M988.8 195.6L995.8 207.5L981.8 207.5Z" fill="none" stroke="#10d010" stroke-width="1.5" stroke-linejoin="miter" stroke-opacity="0.55"/>
<path d="M992.2 197.1L999.2 209.0L985.2 209.0Z" fill="none" stroke="#10d010" stroke-width="1.5" stroke-linejoin="miter" stroke-opacity="0.55"/>
<path d="M995.2 198.5L1002.2 210.4L988.2 210.4Z" fill="none" stroke="#10d010" stroke-width="1.5" stroke-linejoin="miter" stroke-opacity="0.55"/>
<path d="M998.6 201.2L1005.6 213.1L991.6 213.1Z" fill="none" stroke="#10d010" stroke-width="1.5" stroke-linejoin="miter" stroke-opacity="0.55"/>
<path d="M1000.5 202.9L1007.5 214.8L993.5 214.8Z" fill="none" stroke="#10d010" stroke-width="1.5" stroke-linejoin="miter" stroke-opacity="0.55"/>
<path d="M1004.7 205.1L1011.7 217.0L997.7 217.0Z" fill="none" stroke="#10d010" stroke-width="1.5" stroke-linejoin="miter" stroke-opacity="0.55"/>
<path d="M1006.0 206.4L1013.0 218.3L999.0 218.3Z" fill="none" stroke="#10d010" stroke-width="1.5" stroke-linejoin="miter" stroke-opacity="0.55"/>
<path d="M1010.1 209.3L1017.1 221.2L1003.1 221.2Z" fill="none" stroke="#10d010" stroke-width="1.5" stroke-linejoin="miter" stroke-opacity="0.55"/>
<path d="M1013.5 210.6L1020.5 222.5L1006.5 222.5Z" fill="none" stroke="#10d010" stroke-width="1.5" stroke-linejoin="miter" stroke-opacity="0.55"/>
<path d="M1015.6 213.8L1022.6 225.7L1008.6 225.7Z" fill="none" stroke="#10d010" stroke-width="1.5" stroke-linejoin="miter" stroke-opacity="0.55"/>
<path d="M1017.8 214.6L1024.8 226.5L1010.8 226.5Z" fill="none" stroke="#10d010" stroke-width="1.5" stroke-linejoin="miter" stroke-opacity="0.55"/>
<path d="M1021.8 217.0L1028.8 228.9L1014.8 228.9Z" fill="none" stroke="#10d010" stroke-width="1.5" stroke-linejoin="miter" stroke-opacity="0.55"/>
<path d="M1024.0 219.1L1031.0 231.0L1017.0 231.0Z" fill="none" stroke="#10d010" stroke-width="1.5" stroke-linejoin="miter" stroke-opacity="0.55"/>
<path d="M1028.0 221.7L1035.0 233.6L1021.0 233.6Z" fill="none" stroke="#10d010" stroke-width="1.5" stroke-linejoin="miter" stroke-opacity="0.55"/>
<path d="M1029.9 222.8L1036.9 234.7L1022.9 234.7Z" fill="none" stroke="#10d010" stroke-width="1.5" stroke-linejoin="miter" stroke-opacity="0.55"/>
<path d="M1034.5 226.1L1041.5 238.0L1027.5 238.0Z" fill="none" stroke="#10d010" stroke-width="1.5" stroke-linejoin="miter" stroke-opacity="0.55"/>
<path d="M1036.1 228.6L1043.1 240.5L1029.1 240.5Z" fill="none" stroke="#10d010" stroke-width="1.5" stroke-linejoin="miter" stroke-opacity="0.55"/>
<path d="M1038.9 229.7L1045.9 241.6L1031.9 241.6Z" fill="none" stroke="#10d010" stroke-width="1.5" stroke-linejoin="miter" stroke-opacity="0.55"/>
<path d="M1043.5 232.4L1050.5 244.3L1036.5 244.3Z" fill="none" stroke="#10d010" stroke-width="1.5" stroke-linejoin="miter" stroke-opacity="0.55"/>
<path d="M1045.4 234.9L1052.4 246.8L1038.4 246.8Z" fill="none" stroke="#10d010" stroke-width="1.5" stroke-linejoin="miter" stroke-opacity="0.55"/>
<path d="M1049.0 236.9L1056.0 248.8L1042.0 248.8Z" fill="none" stroke="#10d010" stroke-width="1.5" stroke-linejoin="miter" stroke-opacity="0.55"/>
<path d="M1052.6 238.1L1059.6 250.0L1045.6 250.0Z" fill="none" stroke="#10d010" stroke-width="1.5" stroke-linejoin="miter" stroke-opacity="0.55"/>
<path d="M1055.2 240.4L1062.2 252.3L1048.2 252.3Z" fill="none" stroke="#10d010" stroke-width="1.5" stroke-linejoin="miter" stroke-opacity="0.55"/>
<path d="M1058.8 243.0L1065.8 254.9L1051.8 254.9Z" fill="none" stroke="#10d010" stroke-width="1.5" stroke-linejoin="miter" stroke-opacity="0.55"/>
<path d="M1061.3 245.1L1068.3 257.0L1054.3 257.0Z" fill="none" stroke="#10d010" stroke-width="1.5" stroke-linejoin="miter" stroke-opacity="0.55"/>
<path d="M1064.9 246.1L1071.9 258.0L1057.9 258.0Z" fill="none" stroke="#10d010" stroke-width="1.5" stroke-linejoin="miter" stroke-opacity="0.55"/>
<path d="M1066.3 249.1L1073.3 261.0L1059.3 261.0Z" fill="none" stroke="#10d010" stroke-width="1.5" stroke-linejoin="miter" stroke-opacity="0.55"/>
<path d="M1070.4 250.7L1077.4 262.6L1063.4 262.6Z" fill="none" stroke="#10d010" stroke-width="1.5" stroke-linejoin="miter" stroke-opacity="0.55"/>
<path d="M1072.9 252.6L1079.9 264.5L1065.9 264.5Z" fill="none" stroke="#10d010" stroke-width="1.5" stroke-linejoin="miter" stroke-opacity="0.55"/>
<path d="M1076.7 255.4L1083.7 267.3L1069.7 267.3Z" fill="none" stroke="#10d010" stroke-width="1.5" stroke-linejoin="miter" stroke-opacity="0.55"/>
<path d="M1079.1 256.0L1086.1 267.9L1072.1 267.9Z" fill="none" stroke="#10d010" stroke-width="1.5" stroke-linejoin="miter" stroke-opacity="0.55"/>
<path d="M1082.6 258.9L1089.6 270.8L1075.6 270.8Z" fill="none" stroke="#10d010" stroke-width="1.5" stroke-linejoin="miter" stroke-opacity="0.55"/>
<path d="M1084.3 260.7L1091.3 272.6L1077.3 272.6Z" fill="none" stroke="#10d010" stroke-width="1.5" stroke-linejoin="miter" stroke-opacity="0.55"/>
<path d="M1088.3 262.2L1095.3 274.1L1081.3 274.1Z" fill="none" stroke="#10d010" stroke-width="1.5" stroke-linejoin="miter" stroke-opacity="0.55"/>
<path d="M1090.2 264.8L1097.2 276.7L1083.2 276.7Z" fill="none" stroke="#10d010" stroke-width="1.5" stroke-linejoin="miter" stroke-opacity="0.55"/>
<path d="M1094.8 267.8L1101.8 279.7L1087.8 279.7Z" fill="none" stroke="#10d010" stroke-width="1.5" stroke-linejoin="miter" stroke-opacity="0.55"/>
<path d="M1097.9 269.5L1104.9 281.4L1090.9 281.4Z" fill="none" stroke="#10d010" stroke-width="1.5" stroke-linejoin="miter" stroke-opacity="0.55"/>
<path d="M1100.0 271.5L1107.0 283.4L1093.0 283.4Z" fill="none" stroke="#10d010" stroke-width="1.5" stroke-linejoin="miter" stroke-opacity="0.55"/>
<path d="M1117.0 287.0L1124.0 298.9L1110.0 298.9Z" fill="none" stroke="#10d010" stroke-width="1.5" stroke-linejoin="miter" stroke-opacity="0.65"/>
<path d="M1140.0 304.5L1147.0 316.4L1133.0 316.4Z" fill="none" stroke="#10d010" stroke-width="1.5" stroke-linejoin="miter" stroke-opacity="0.65"/>
<path d="M1162.4 318.5L1169.4 330.4L1155.4 330.4Z" fill="none" stroke="#10d010" stroke-width="1.5" stroke-linejoin="miter" stroke-opacity="0.65"/>
<path d="M1186.7 332.5L1193.7 344.4L1179.7 344.4Z" fill="none" stroke="#10d010" stroke-width="1.5" stroke-linejoin="miter" stroke-opacity="0.65"/>
<path d="M1212.8 349.8L1219.8 361.7L1205.8 361.7Z" fill="none" stroke="#10d010" stroke-width="1.5" stroke-linejoin="miter" stroke-opacity="0.65"/>
<path d="M1244.0 358.5L1251.0 370.4L1237.0 370.4Z" fill="none" stroke="#10d010" stroke-width="1.5" stroke-linejoin="miter" stroke-opacity="0.65"/>
<path d="M785.2 50.1L792.2 57.1L785.2 64.1L778.2 57.1Z" fill="none" stroke="#101010" stroke-width="1.5" stroke-opacity="0.75"/>
<path d="M789.6 53.2L796.6 60.2L789.6 67.2L782.6 60.2Z" fill="none" stroke="#101010" stroke-width="1.5" stroke-opacity="0.75"/>
<path d="M794.8 57.3L801.8 64.3L794.8 71.3L787.8 64.3Z" fill="none" stroke="#101010" stroke-width="1.5" stroke-opacity="0.75"/>
<path d="M798.3 59.6L805.3 66.6L798.3 73.6L791.3 66.6Z" fill="none" stroke="#101010" stroke-width="1.5" stroke-opacity="0.75"/>
<path d="M802.5 61.9L809.5 68.9L802.5 75.9L795.5 68.9Z" fill="none" stroke="#101010" stroke-width="1.5" stroke-opacity="0.75"/>
<path d="M807.5 65.7L814.5 72.7L807.5 79.7L800.5 72.7Z" fill="none" stroke="#101010" stroke-width="1.5" stroke-opacity="0.75"/>
<path d="M812.1 69.7L819.1 76.7L812.1 83.7L805.1 76.7Z" fill="none" stroke="#101010" stroke-width="1.5" stroke-opacity="0.75"/>
<path d="M815.7 72.0L822.7 79.0L815.7 86.0L808.7 79.0Z" fill="none" stroke="#101010" stroke-width="1.5" stroke-opacity="0.75"/>
<path d="M822.2 75.4L829.2 82.4L822.2 89.4L815.2 82.4Z" fill="none" stroke="#101010" stroke-width="1.5" stroke-opacity="0.75"/>
<path d="M825.7 77.6L832.7 84.6L825.7 91.6L818.7 84.6Z" fill="none" stroke="#101010" stroke-width="1.5" stroke-opacity="0.75"/>
<path d="M830.0 81.0L837.0 88.0L830.0 95.0L823.0 88.0Z" fill="none" stroke="#101010" stroke-width="1.5" stroke-opacity="0.75"/>
<path d="M833.8 84.7L840.8 91.7L833.8 98.7L826.8 91.7Z" fill="none" stroke="#101010" stroke-width="1.5" stroke-opacity="0.75"/>
<path d="M843.5 90.1L850.5 97.1L843.5 104.1L836.5 97.1Z" fill="none" stroke="#101010" stroke-width="1.5" stroke-opacity="0.75"/>
<path d="M852.1 96.6L859.1 103.6L852.1 110.6L845.1 103.6Z" fill="none" stroke="#101010" stroke-width="1.5" stroke-opacity="0.75"/>
<path d="M860.7 101.5L867.7 108.5L860.7 115.5L853.7 108.5Z" fill="none" stroke="#101010" stroke-width="1.5" stroke-opacity="0.75"/>
<path d="M868.6 108.3L875.6 115.3L868.6 122.3L861.6 115.3Z" fill="none" stroke="#101010" stroke-width="1.5" stroke-opacity="0.75"/>
<path d="M877.1 114.2L884.1 121.2L877.1 128.2L870.1 121.2Z" fill="none" stroke="#101010" stroke-width="1.5" stroke-opacity="0.75"/>
<path d="M886.0 119.3L893.0 126.3L886.0 133.3L879.0 126.3Z" fill="none" stroke="#101010" stroke-width="1.5" stroke-opacity="0.75"/>
<path d="M894.6 124.8L901.6 131.8L894.6 138.8L887.6 131.8Z" fill="none" stroke="#101010" stroke-width="1.5" stroke-opacity="0.75"/>
<path d="M903.0 131.4L910.0 138.4L903.0 145.4L896.0 138.4Z" fill="none" stroke="#101010" stroke-width="1.5" stroke-opacity="0.75"/>
<path d="M911.0 136.9L918.0 143.9L911.0 150.9L904.0 143.9Z" fill="none" stroke="#101010" stroke-width="1.5" stroke-opacity="0.75"/>
<path d="M920.2 144.2L927.2 151.2L920.2 158.2L913.2 151.2Z" fill="none" stroke="#101010" stroke-width="1.5" stroke-opacity="0.75"/>
<path d="M929.5 149.1L936.5 156.1L929.5 163.1L922.5 156.1Z" fill="none" stroke="#101010" stroke-width="1.5" stroke-opacity="0.75"/>
<path d="M939.0 155.0L946.0 162.0L939.0 169.0L932.0 162.0Z" fill="none" stroke="#101010" stroke-width="1.5" stroke-opacity="0.75"/>
<path d="M946.7 161.9L953.7 168.9L946.7 175.9L939.7 168.9Z" fill="none" stroke="#101010" stroke-width="1.5" stroke-opacity="0.75"/>
<path d="M955.7 167.3L962.7 174.3L955.7 181.3L948.7 174.3Z" fill="none" stroke="#101010" stroke-width="1.5" stroke-opacity="0.75"/>
<path d="M964.6 173.4L971.6 180.4L964.6 187.4L957.6 180.4Z" fill="none" stroke="#101010" stroke-width="1.5" stroke-opacity="0.75"/>
<path d="M973.1 179.4L980.1 186.4L973.1 193.4L966.1 186.4Z" fill="none" stroke="#101010" stroke-width="1.5" stroke-opacity="0.75"/>
<path d="M982.3 185.8L989.3 192.8L982.3 199.8L975.3 192.8Z" fill="none" stroke="#101010" stroke-width="1.5" stroke-opacity="0.75"/>
<path d="M989.2 190.6L996.2 197.6L989.2 204.6L982.2 197.6Z" fill="none" stroke="#101010" stroke-width="1.5" stroke-opacity="0.75"/>
<path d="M999.6 196.8L1006.6 203.8L999.6 210.8L992.6 203.8Z" fill="none" stroke="#101010" stroke-width="1.5" stroke-opacity="0.75"/>
<path d="M1006.4 202.8L1013.4 209.8L1006.4 216.8L999.4 209.8Z" fill="none" stroke="#101010" stroke-width="1.5" stroke-opacity="0.75"/>
<path d="M1016.0 210.1L1023.0 217.1L1016.0 224.1L1009.0 217.1Z" fill="none" stroke="#101010" stroke-width="1.5" stroke-opacity="0.75"/>
<path d="M1024.5 215.7L1031.5 222.7L1024.5 229.7L1017.5 222.7Z" fill="none" stroke="#101010" stroke-width="1.5" stroke-opacity="0.75"/>
<path d="M1034.0 220.4L1041.0 227.4L1034.0 234.4L1027.0 227.4Z" fill="none" stroke="#101010" stroke-width="1.5" stroke-opacity="0.75"/>
<path d="M1042.2 228.2L1049.2 235.2L1042.2 242.2L1035.2 235.2Z" fill="none" stroke="#101010" stroke-width="1.5" stroke-opacity="0.75"/>
<path d="M1050.8 233.2L1057.8 240.2L1050.8 247.2L1043.8 240.2Z" fill="none" stroke="#101010" stroke-width="1.5" stroke-opacity="0.75"/>
<path d="M1059.0 240.0L1066.0 247.0L1059.0 254.0L1052.0 247.0Z" fill="none" stroke="#101010" stroke-width="1.5" stroke-opacity="0.75"/>
<path d="M1068.9 244.3L1075.9 251.3L1068.9 258.3L1061.9 251.3Z" fill="none" stroke="#101010" stroke-width="1.5" stroke-opacity="0.75"/>
<path d="M1076.8 250.9L1083.8 257.9L1076.8 264.9L1069.8 257.9Z" fill="none" stroke="#101010" stroke-width="1.5" stroke-opacity="0.75"/>
<path d="M1085.7 256.3L1092.7 263.3L1085.7 270.3L1078.7 263.3Z" fill="none" stroke="#101010" stroke-width="1.5" stroke-opacity="0.75"/>
<path d="M1094.0 263.0L1101.0 270.0L1094.0 277.0L1087.0 270.0Z" fill="none" stroke="#101010" stroke-width="1.5" stroke-opacity="0.75"/>
<path d="M790.6 41.0L797.6 48.0L790.6 55.0L783.6 48.0Z" fill="none" stroke="#101010" stroke-width="1.5" stroke-opacity="0.8"/>
<path d="M803.0 51.5L810.0 58.5L803.0 65.5L796.0 58.5Z" fill="none" stroke="#101010" stroke-width="1.5" stroke-opacity="0.8"/>
<path d="M785.7 53.5L792.7 60.5L785.7 67.5L778.7 60.5Z" fill="none" stroke="#101010" stroke-width="1.5" stroke-opacity="0.8"/>
<path d="M825.3 92.4L832.3 99.4L825.3 106.4L818.3 99.4Z" fill="none" stroke="#101010" stroke-width="1.5" stroke-opacity="0.8"/>
<path d="M885.6 103.6L892.6 110.6L885.6 117.6L878.6 110.6Z" fill="none" stroke="#101010" stroke-width="1.5" stroke-opacity="0.8"/>
<path d="M1042.0 229.0L1049.0 236.0L1042.0 243.0L1035.0 236.0Z" fill="none" stroke="#101010" stroke-width="1.5" stroke-opacity="0.8"/>
<path d="M1050.4 232.4L1057.4 239.4L1050.4 246.4L1043.4 239.4Z" fill="none" stroke="#101010" stroke-width="1.5" stroke-opacity="0.8"/>
<path d="M1055.6 241.8L1062.6 248.8L1055.6 255.8L1048.6 248.8Z" fill="none" stroke="#101010" stroke-width="1.5" stroke-opacity="0.8"/>
<path d="M1072.3 244.9L1079.3 251.9L1072.3 258.9L1065.3 251.9Z" fill="none" stroke="#101010" stroke-width="1.5" stroke-opacity="0.8"/>
<path d="M1082.7 249.0L1089.7 256.0L1082.7 263.0L1075.7 256.0Z" fill="none" stroke="#101010" stroke-width="1.5" stroke-opacity="0.8"/>
<path d="M1072.3 255.3L1079.3 262.3L1072.3 269.3L1065.3 262.3Z" fill="none" stroke="#101010" stroke-width="1.5" stroke-opacity="0.8"/>
<path d="M1090.0 260.5L1097.0 267.5L1090.0 274.5L1083.0 267.5Z" fill="none" stroke="#101010" stroke-width="1.5" stroke-opacity="0.8"/>
<path d="M1099.4 257.4L1106.4 264.4L1099.4 271.4L1092.4 264.4Z" fill="none" stroke="#101010" stroke-width="1.5" stroke-opacity="0.8"/>
<path d="M1094.2 272.0L1101.2 279.0L1094.2 286.0L1087.2 279.0Z" fill="none" stroke="#101010" stroke-width="1.5" stroke-opacity="0.8"/>
<path d="M1096.2 276.0L1103.2 283.0L1096.2 290.0L1089.2 283.0Z" fill="none" stroke="#101010" stroke-width="1.5" stroke-opacity="0.8"/>
<path d="M1133.0 302.4L1140.0 309.4L1133.0 316.4L1126.0 309.4Z" fill="none" stroke="#101010" stroke-width="1.5" stroke-opacity="0.8"/>
<path d="M1133.0 311.0L1140.0 318.0L1133.0 325.0L1126.0 318.0Z" fill="none" stroke="#101010" stroke-width="1.5" stroke-opacity="0.8"/>
<path d="M1157.2 316.3L1164.2 323.3L1157.2 330.3L1150.2 323.3Z" fill="none" stroke="#101010" stroke-width="1.5" stroke-opacity="0.8"/>
<path d="M1157.2 323.3L1164.2 330.3L1157.2 337.3L1150.2 330.3Z" fill="none" stroke="#101010" stroke-width="1.5" stroke-opacity="0.8"/>
<path d="M1157.2 330.2L1164.2 337.2L1157.2 344.2L1150.2 337.2Z" fill="none" stroke="#101010" stroke-width="1.5" stroke-opacity="0.8"/>
<path d="M1179.8 342.4L1186.8 349.4L1179.8 356.4L1172.8 349.4Z" fill="none" stroke="#101010" stroke-width="1.5" stroke-opacity="0.8"/>
<path d="M1179.8 349.3L1186.8 356.3L1179.8 363.3L1172.8 356.3Z" fill="none" stroke="#101010" stroke-width="1.5" stroke-opacity="0.8"/>
<path d="M1207.6 352.8L1214.6 359.8L1207.6 366.8L1200.6 359.8Z" fill="none" stroke="#101010" stroke-width="1.5" stroke-opacity="0.8"/>
<path d="M1207.6 359.7L1214.6 366.7L1207.6 373.7L1200.6 366.7Z" fill="none" stroke="#101010" stroke-width="1.5" stroke-opacity="0.8"/>
<path d="M1207.6 368.4L1214.6 375.4L1207.6 382.4L1200.6 375.4Z" fill="none" stroke="#101010" stroke-width="1.5" stroke-opacity="0.8"/>
<path d="M1235.3 361.5L1242.3 368.5L1235.3 375.5L1228.3 368.5Z" fill="none" stroke="#101010" stroke-width="1.5" stroke-opacity="0.8"/>
<path d="M1237.0 366.7L1244.0 373.7L1237.0 380.7L1230.0 373.7Z" fill="none" stroke="#101010" stroke-width="1.5" stroke-opacity="0.8"/>
</g>
<rect x="453.1" y="54.5" width="10.5" height="10.5" fill="none" stroke="#ff2020" stroke-width="1.4" stroke-opacity="0.6"/>
<circle cx="458.4" cy="86.0" r="5.8" fill="none" stroke="#2020ff" stroke-width="1.4" stroke-opacity="0.6"/>
<path d="M458.3 105.3L466.1 118.4L450.6 118.4Z" fill="none" stroke="#20d020" stroke-width="1.4" stroke-linejoin="miter" stroke-opacity="0.6"/>
<path d="M458.5 133.5L466.3 141.3L458.5 149.1L450.7 141.3Z" fill="none" stroke="#202020" stroke-width="1.4" stroke-opacity="0.65"/>
<rect x="1131.8" y="31.5" width="10.5" height="10.5" fill="none" stroke="#ff2020" stroke-width="1.4" stroke-opacity="0.6"/>
<circle cx="1137.0" cy="63.8" r="5.8" fill="none" stroke="#2020ff" stroke-width="1.4" stroke-opacity="0.6"/>
<path d="M1137.0 83.1L1144.8 96.2L1129.2 96.2Z" fill="none" stroke="#20d020" stroke-width="1.4" stroke-linejoin="miter" stroke-opacity="0.6"/>
<path d="M1137.0 110.2L1144.8 118.0L1137.0 125.8L1129.2 118.0Z" fill="none" stroke="#202020" stroke-width="1.4" stroke-opacity="0.65"/>
<line x1="863" y1="79.5" x2="1036" y2="200.7" stroke="#2a2a2a" stroke-width="1.9" stroke-dasharray="4.5 3"/><line x1="863.6" y1="202.5" x2="1036" y2="333" stroke="#2a2a2a" stroke-width="1.9" stroke-dasharray="4.5 3"/>
<rect x="117.5" y="0" width="485.79999999999995" height="1.7" fill="#d4d4d4"/>
<rect x="776" y="0" width="486" height="1.7" fill="#d4d4d4"/>
<rect x="118.5" y="2.8" width="483.79999999999995" height="482.5" fill="none" stroke="#454545" stroke-width="2"/>
<line x1="267.3" y1="485.3" x2="267.3" y2="474.3" stroke="#454545" stroke-width="2"/>
<line x1="267.3" y1="2.8" x2="267.3" y2="13.8" stroke="#454545" stroke-width="2"/>
<line x1="416.1" y1="485.3" x2="416.1" y2="474.3" stroke="#454545" stroke-width="2"/>
<line x1="416.1" y1="2.8" x2="416.1" y2="13.8" stroke="#454545" stroke-width="2"/>
<line x1="564.9000000000001" y1="485.3" x2="564.9000000000001" y2="474.3" stroke="#454545" stroke-width="2"/>
<line x1="564.9000000000001" y1="2.8" x2="564.9000000000001" y2="13.8" stroke="#454545" stroke-width="2"/>
<line x1="192.9" y1="485.3" x2="192.9" y2="479.3" stroke="#454545" stroke-width="2"/>
<line x1="192.9" y1="2.8" x2="192.9" y2="8.8" stroke="#454545" stroke-width="2"/>
<line x1="341.70000000000005" y1="485.3" x2="341.70000000000005" y2="479.3" stroke="#454545" stroke-width="2"/>
<line x1="341.70000000000005" y1="2.8" x2="341.70000000000005" y2="8.8" stroke="#454545" stroke-width="2"/>
<line x1="490.5" y1="485.3" x2="490.5" y2="479.3" stroke="#454545" stroke-width="2"/>
<line x1="490.5" y1="2.8" x2="490.5" y2="8.8" stroke="#454545" stroke-width="2"/>
<line x1="118.5" y1="378.9" x2="129.5" y2="378.9" stroke="#454545" stroke-width="2"/>
<line x1="602.3" y1="378.9" x2="591.3" y2="378.9" stroke="#454545" stroke-width="2"/>
<line x1="118.5" y1="174.4" x2="129.5" y2="174.4" stroke="#454545" stroke-width="2"/>
<line x1="602.3" y1="174.4" x2="591.3" y2="174.4" stroke="#454545" stroke-width="2"/>
<line x1="118.5" y1="460.2787317734317" x2="124.5" y2="460.2787317734317" stroke="#454545" stroke-width="2"/>
<line x1="602.3" y1="460.2787317734317" x2="596.3" y2="460.2787317734317" stroke="#454545" stroke-width="2"/>
<line x1="118.5" y1="440.4606341132842" x2="124.5" y2="440.4606341132842" stroke="#454545" stroke-width="2"/>
<line x1="602.3" y1="440.4606341132842" x2="596.3" y2="440.4606341132842" stroke="#454545" stroke-width="2"/>
<line x1="118.5" y1="424.2680692965448" x2="124.5" y2="424.2680692965448" stroke="#454545" stroke-width="2"/>
<line x1="602.3" y1="424.2680692965448" x2="596.3" y2="424.2680692965448" stroke="#454545" stroke-width="2"/>
<line x1="118.5" y1="410.57745081708447" x2="124.5" y2="410.57745081708447" stroke="#454545" stroke-width="2"/>
<line x1="602.3" y1="410.57745081708447" x2="596.3" y2="410.57745081708447" stroke="#454545" stroke-width="2"/>
<line x1="118.5" y1="398.71809766014746" x2="124.5" y2="398.71809766014746" stroke="#454545" stroke-width="2"/>
<line x1="602.3" y1="398.71809766014746" x2="596.3" y2="398.71809766014746" stroke="#454545" stroke-width="2"/>
<line x1="118.5" y1="388.257406819658" x2="124.5" y2="388.257406819658" stroke="#454545" stroke-width="2"/>
<line x1="602.3" y1="388.257406819658" x2="596.3" y2="388.257406819658" stroke="#454545" stroke-width="2"/>
<line x1="118.5" y1="317.3393658867159" x2="124.5" y2="317.3393658867159" stroke="#454545" stroke-width="2"/>
<line x1="602.3" y1="317.3393658867159" x2="596.3" y2="317.3393658867159" stroke="#454545" stroke-width="2"/>
<line x1="118.5" y1="281.328703409829" x2="124.5" y2="281.328703409829" stroke="#454545" stroke-width="2"/>
<line x1="602.3" y1="281.328703409829" x2="596.3" y2="281.328703409829" stroke="#454545" stroke-width="2"/>
<line x1="118.5" y1="255.77873177343167" x2="124.5" y2="255.77873177343167" stroke="#454545" stroke-width="2"/>
<line x1="602.3" y1="255.77873177343167" x2="596.3" y2="255.77873177343167" stroke="#454545" stroke-width="2"/>
<line x1="118.5" y1="235.9606341132842" x2="124.5" y2="235.9606341132842" stroke="#454545" stroke-width="2"/>
<line x1="602.3" y1="235.9606341132842" x2="596.3" y2="235.9606341132842" stroke="#454545" stroke-width="2"/>
<line x1="118.5" y1="219.76806929654484" x2="124.5" y2="219.76806929654484" stroke="#454545" stroke-width="2"/>
<line x1="602.3" y1="219.76806929654484" x2="596.3" y2="219.76806929654484" stroke="#454545" stroke-width="2"/>
<line x1="118.5" y1="206.07745081708447" x2="124.5" y2="206.07745081708447" stroke="#454545" stroke-width="2"/>
<line x1="602.3" y1="206.07745081708447" x2="596.3" y2="206.07745081708447" stroke="#454545" stroke-width="2"/>
<line x1="118.5" y1="194.21809766014752" x2="124.5" y2="194.21809766014752" stroke="#454545" stroke-width="2"/>
<line x1="602.3" y1="194.21809766014752" x2="596.3" y2="194.21809766014752" stroke="#454545" stroke-width="2"/>
<line x1="118.5" y1="183.757406819658" x2="124.5" y2="183.757406819658" stroke="#454545" stroke-width="2"/>
<line x1="602.3" y1="183.757406819658" x2="596.3" y2="183.757406819658" stroke="#454545" stroke-width="2"/>
<line x1="118.5" y1="112.83936588671584" x2="124.5" y2="112.83936588671584" stroke="#454545" stroke-width="2"/>
<line x1="602.3" y1="112.83936588671584" x2="596.3" y2="112.83936588671584" stroke="#454545" stroke-width="2"/>
<line x1="118.5" y1="76.828703409829" x2="124.5" y2="76.828703409829" stroke="#454545" stroke-width="2"/>
<line x1="602.3" y1="76.828703409829" x2="596.3" y2="76.828703409829" stroke="#454545" stroke-width="2"/>
<line x1="118.5" y1="51.27873177343167" x2="124.5" y2="51.27873177343167" stroke="#454545" stroke-width="2"/>
<line x1="602.3" y1="51.27873177343167" x2="596.3" y2="51.27873177343167" stroke="#454545" stroke-width="2"/>
<line x1="118.5" y1="31.460634113284158" x2="124.5" y2="31.460634113284158" stroke="#454545" stroke-width="2"/>
<line x1="602.3" y1="31.460634113284158" x2="596.3" y2="31.460634113284158" stroke="#454545" stroke-width="2"/>
<line x1="118.5" y1="15.268069296544837" x2="124.5" y2="15.268069296544837" stroke="#454545" stroke-width="2"/>
<line x1="602.3" y1="15.268069296544837" x2="596.3" y2="15.268069296544837" stroke="#454545" stroke-width="2"/>
<rect x="777" y="2.8" width="484" height="482.2" fill="none" stroke="#454545" stroke-width="2"/>
<line x1="1019.0" y1="485" x2="1019.0" y2="474" stroke="#454545" stroke-width="2"/>
<line x1="1019.0" y1="2.8" x2="1019.0" y2="13.8" stroke="#454545" stroke-width="2"/>
<line x1="811.5714285714286" y1="485" x2="811.5714285714286" y2="479" stroke="#454545" stroke-width="2"/>
<line x1="811.5714285714286" y1="2.8" x2="811.5714285714286" y2="8.8" stroke="#454545" stroke-width="2"/>
<line x1="846.1428571428571" y1="485" x2="846.1428571428571" y2="479" stroke="#454545" stroke-width="2"/>
<line x1="846.1428571428571" y1="2.8" x2="846.1428571428571" y2="8.8" stroke="#454545" stroke-width="2"/>
<line x1="880.7142857142858" y1="485" x2="880.7142857142858" y2="479" stroke="#454545" stroke-width="2"/>
<line x1="880.7142857142858" y1="2.8" x2="880.7142857142858" y2="8.8" stroke="#454545" stroke-width="2"/>
<line x1="915.2857142857142" y1="485" x2="915.2857142857142" y2="479" stroke="#454545" stroke-width="2"/>
<line x1="915.2857142857142" y1="2.8" x2="915.2857142857142" y2="8.8" stroke="#454545" stroke-width="2"/>
<line x1="949.8571428571429" y1="485" x2="949.8571428571429" y2="479" stroke="#454545" stroke-width="2"/>
<line x1="949.8571428571429" y1="2.8" x2="949.8571428571429" y2="8.8" stroke="#454545" stroke-width="2"/>
<line x1="984.4285714285714" y1="485" x2="984.4285714285714" y2="479" stroke="#454545" stroke-width="2"/>
<line x1="984.4285714285714" y1="2.8" x2="984.4285714285714" y2="8.8" stroke="#454545" stroke-width="2"/>
<line x1="1053.5714285714287" y1="485" x2="1053.5714285714287" y2="479" stroke="#454545" stroke-width="2"/>
<line x1="1053.5714285714287" y1="2.8" x2="1053.5714285714287" y2="8.8" stroke="#454545" stroke-width="2"/>
<line x1="1088.142857142857" y1="485" x2="1088.142857142857" y2="479" stroke="#454545" stroke-width="2"/>
<line x1="1088.142857142857" y1="2.8" x2="1088.142857142857" y2="8.8" stroke="#454545" stroke-width="2"/>
<line x1="1122.7142857142858" y1="485" x2="1122.7142857142858" y2="479" stroke="#454545" stroke-width="2"/>
<line x1="1122.7142857142858" y1="2.8" x2="1122.7142857142858" y2="8.8" stroke="#454545" stroke-width="2"/>
<line x1="1157.2857142857144" y1="485" x2="1157.2857142857144" y2="479" stroke="#454545" stroke-width="2"/>
<line x1="1157.2857142857144" y1="2.8" x2="1157.2857142857144" y2="8.8" stroke="#454545" stroke-width="2"/>
<line x1="1191.857142857143" y1="485" x2="1191.857142857143" y2="479" stroke="#454545" stroke-width="2"/>
<line x1="1191.857142857143" y1="2.8" x2="1191.857142857143" y2="8.8" stroke="#454545" stroke-width="2"/>
<line x1="1226.4285714285713" y1="485" x2="1226.4285714285713" y2="479" stroke="#454545" stroke-width="2"/>
<line x1="1226.4285714285713" y1="2.8" x2="1226.4285714285713" y2="8.8" stroke="#454545" stroke-width="2"/>
<line x1="777" y1="223.75" x2="788" y2="223.75" stroke="#454545" stroke-width="2"/>
<line x1="1261" y1="223.75" x2="1250" y2="223.75" stroke="#454545" stroke-width="2"/>
<line x1="777" y1="406.32096513256806" x2="783" y2="406.32096513256806" stroke="#454545" stroke-width="2"/>
<line x1="1261" y1="406.32096513256806" x2="1255" y2="406.32096513256806" stroke="#454545" stroke-width="2"/>
<line x1="777" y1="360.3259282672241" x2="783" y2="360.3259282672241" stroke="#454545" stroke-width="2"/>
<line x1="1261" y1="360.3259282672241" x2="1255" y2="360.3259282672241" stroke="#454545" stroke-width="2"/>
<line x1="777" y1="327.6919302651362" x2="783" y2="327.6919302651362" stroke="#454545" stroke-width="2"/>
<line x1="1261" y1="327.6919302651362" x2="1255" y2="327.6919302651362" stroke="#454545" stroke-width="2"/>
<line x1="777" y1="302.37903486743187" x2="783" y2="302.37903486743187" stroke="#454545" stroke-width="2"/>
<line x1="1261" y1="302.37903486743187" x2="1255" y2="302.37903486743187" stroke="#454545" stroke-width="2"/>
<line x1="777" y1="281.6968933997922" x2="783" y2="281.6968933997922" stroke="#454545" stroke-width="2"/>
<line x1="1261" y1="281.6968933997922" x2="1255" y2="281.6968933997922" stroke="#454545" stroke-width="2"/>
<line x1="777" y1="264.2103919482761" x2="783" y2="264.2103919482761" stroke="#454545" stroke-width="2"/>
<line x1="1261" y1="264.2103919482761" x2="1255" y2="264.2103919482761" stroke="#454545" stroke-width="2"/>
<line x1="777" y1="249.0628953977043" x2="783" y2="249.0628953977043" stroke="#454545" stroke-width="2"/>
<line x1="1261" y1="249.0628953977043" x2="1255" y2="249.0628953977043" stroke="#454545" stroke-width="2"/>
<line x1="777" y1="235.70185653444827" x2="783" y2="235.70185653444827" stroke="#454545" stroke-width="2"/>
<line x1="1261" y1="235.70185653444827" x2="1255" y2="235.70185653444827" stroke="#454545" stroke-width="2"/>
<line x1="777" y1="145.1209651325681" x2="783" y2="145.1209651325681" stroke="#454545" stroke-width="2"/>
<line x1="1261" y1="145.1209651325681" x2="1255" y2="145.1209651325681" stroke="#454545" stroke-width="2"/>
<line x1="777" y1="99.12592826722414" x2="783" y2="99.12592826722414" stroke="#454545" stroke-width="2"/>
<line x1="1261" y1="99.12592826722414" x2="1255" y2="99.12592826722414" stroke="#454545" stroke-width="2"/>
<line x1="777" y1="66.4919302651362" x2="783" y2="66.4919302651362" stroke="#454545" stroke-width="2"/>
<line x1="1261" y1="66.4919302651362" x2="1255" y2="66.4919302651362" stroke="#454545" stroke-width="2"/>
<line x1="777" y1="41.17903486743191" x2="783" y2="41.17903486743191" stroke="#454545" stroke-width="2"/>
<line x1="1261" y1="41.17903486743191" x2="1255" y2="41.17903486743191" stroke="#454545" stroke-width="2"/>
<line x1="777" y1="20.496893399792242" x2="783" y2="20.496893399792242" stroke="#454545" stroke-width="2"/>
<line x1="1261" y1="20.496893399792242" x2="1255" y2="20.496893399792242" stroke="#454545" stroke-width="2"/>
<g fill="#1c1c1c" stroke="#1c1c1c" stroke-width="0.5">
<text x="119.0" y="519" font-size="27.5" text-anchor="middle" >1.0</text><text x="267.8" y="519" font-size="27.5" text-anchor="middle" >3.0</text><text x="416.6" y="519" font-size="27.5" text-anchor="middle" >5.0</text><text x="565.4000000000001" y="519" font-size="27.5" text-anchor="middle" >7.0</text><text x="777.5" y="519" font-size="27.5" text-anchor="middle" >1.5</text><text x="1019.5" y="519" font-size="27.5" text-anchor="middle" >2.9</text><text x="1261.5" y="519" font-size="27.5" text-anchor="middle" >4.3</text><text x="87.5" y="389.5" font-size="27" text-anchor="end" >10</text><text x="90.0" y="374.5" font-size="14.5" text-anchor="start" >14</text><text x="87.5" y="186" font-size="27" text-anchor="end" >10</text><text x="90.0" y="171" font-size="14.5" text-anchor="start" >15</text><text x="746" y="496.5" font-size="27" text-anchor="end" >10</text><text x="748.5" y="481.5" font-size="14.5" text-anchor="start" >14</text><text x="746" y="235" font-size="27" text-anchor="end" >10</text><text x="748.5" y="220" font-size="14.5" text-anchor="start" >15</text><text x="289" y="569" font-size="27">1000/T (K<tspan font-size="14" dy="-13.5" dx="1.5">-1</tspan><tspan dy="13.5" dx="3">)</tspan></text><text x="947.5" y="569" font-size="27">1000/T (K<tspan font-size="14" dy="-13.5" dx="1.5">-1</tspan><tspan dy="13.5" dx="3">)</tspan></text><text transform="translate(27.5,321.5) rotate(-90)" font-size="26">r<tspan font-size="15" dy="9">H</tspan><tspan dy="-9">(eR</tspan><tspan font-size="15" dy="9" dx="1.5">H</tspan><tspan dy="-9" dx="1">)</tspan><tspan font-size="13.5" dy="-14" dx="2">-1</tspan><tspan dy="14" dx="1.5"> (cm</tspan><tspan font-size="13.5" dy="-14" dx="3">-2</tspan><tspan dy="14" dx="1">)</tspan></text><text transform="translate(686,321.5) rotate(-90)" font-size="26">r<tspan font-size="15" dy="9">H</tspan><tspan dy="-9">(eR</tspan><tspan font-size="15" dy="9" dx="1.5">H</tspan><tspan dy="-9" dx="1">)</tspan><tspan font-size="13.5" dy="-14" dx="2">-1</tspan><tspan dy="14" dx="1.5"> (cm</tspan><tspan font-size="13.5" dy="-14" dx="3">-2</tspan><tspan dy="14" dx="1">)</tspan></text><text x="151" y="443.5" font-size="27.5" text-anchor="start" >(a)</text><text x="805" y="456.5" font-size="27.5" text-anchor="start" >(b)</text><text x="930.5" y="94.2" font-size="25">E<tspan font-size="14" dy="9.5">a</tspan><tspan dy="-9.5"> = 92 meV</tspan></text><text x="847.5" y="340.3" font-size="25">E<tspan font-size="14" dy="9.5">a</tspan><tspan dy="-9.5"> = 99 meV</tspan></text><text x="489.5" y="67.6" font-size="22.5" text-anchor="start" >5 min</text>
<text x="489.5" y="94.8" font-size="22.5" text-anchor="start" >10 min</text>
<text x="489.5" y="122.0" font-size="22.5" text-anchor="start" >25 min</text>
<text x="489.5" y="149.2" font-size="22.5" text-anchor="start" >40 min</text><text x="1168" y="44" font-size="22.5" text-anchor="start" >5 min</text>
<text x="1168" y="71" font-size="22.5" text-anchor="start" >10 min</text>
<text x="1168" y="98" font-size="22.5" text-anchor="start" >25 min</text>
<text x="1168" y="125" font-size="22.5" text-anchor="start" >40 min</text>
</g>
<g id="foot1" fill="#fff"><rect x="101" y="516" width="5.50" height="4"/><rect x="109.53" y="516" width="5.47" height="4"/><rect x="759" y="516" width="6.00" height="4"/><rect x="768.03" y="516" width="4.97" height="4"/><rect x="59" y="387" width="4.95" height="3"/><rect x="66.94" y="387" width="5.06" height="3"/><rect x="90" y="373" width="3.35" height="2"/><rect x="95.24" y="373" width="2.76" height="2"/><rect x="59" y="183" width="4.95" height="4"/><rect x="66.94" y="183" width="5.06" height="4"/><rect x="90" y="169" width="3.35" height="3"/><rect x="95.24" y="169" width="2.76" height="3"/><rect x="717" y="494" width="5.45" height="3"/><rect x="725.44" y="494" width="5.56" height="3"/><rect x="749" y="480" width="2.85" height="2"/><rect x="753.74" y="480" width="3.26" height="2"/><rect x="717" y="232" width="5.45" height="4"/><rect x="725.44" y="232" width="5.56" height="4"/><rect x="749" y="218" width="2.85" height="3"/><rect x="753.74" y="218" width="3.26" height="3"/><rect x="290" y="566" width="5.50" height="4"/><rect x="298.49" y="566" width="5.51" height="4"/><rect x="413" y="554" width="3.46" height="2"/><rect x="418.30" y="554" width="2.70" height="2"/><rect x="949" y="566" width="5.00" height="4"/><rect x="956.99" y="566" width="5.01" height="4"/><rect x="1072" y="554" width="2.96" height="2"/><rect x="1076.80" y="554" width="3.20" height="2"/><rect x="490" y="92" width="4.86" height="4"/><rect x="497.45" y="92" width="4.55" height="4"/><rect x="1169" y="68" width="4.36" height="4"/><rect x="1175.95" y="68" width="4.05" height="4"/></g>
</svg></div>
</body></html>
